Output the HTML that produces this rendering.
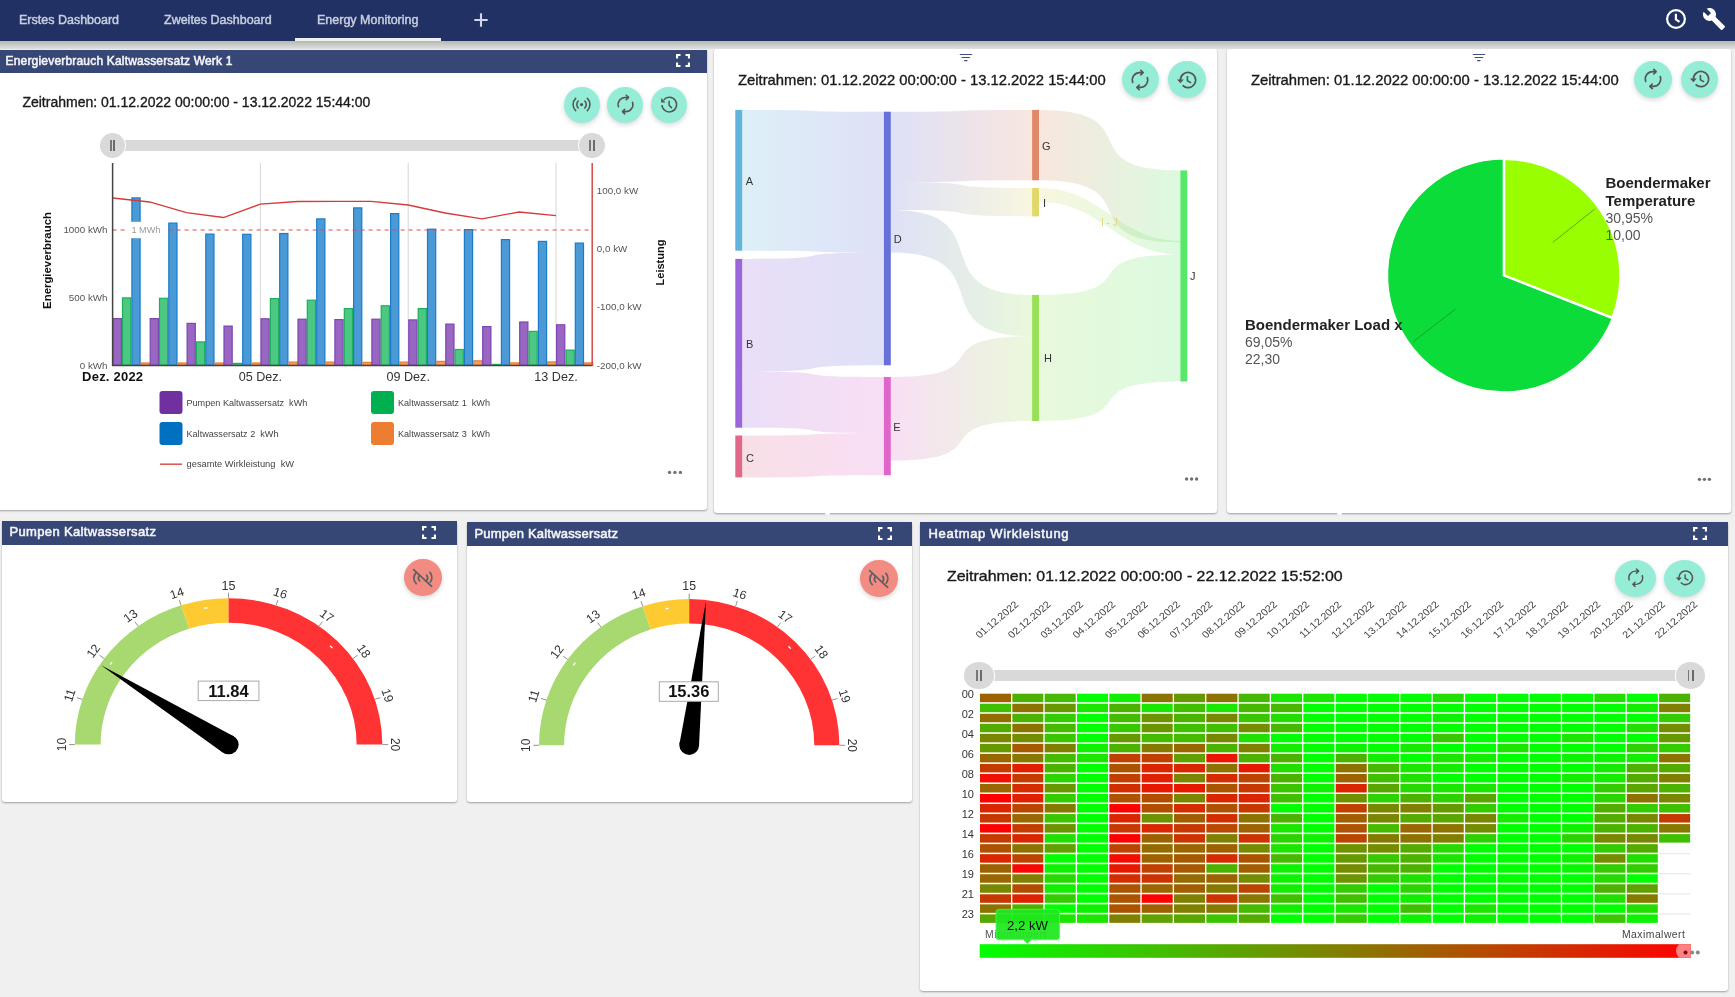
<!DOCTYPE html>
<html><head><meta charset="utf-8"><style>
*{box-sizing:border-box;margin:0;padding:0}
html,body{width:1735px;height:997px;overflow:hidden;background:#eff0ef;font-family:"Liberation Sans",sans-serif;position:relative}
.abs{position:absolute}
#nav{position:absolute;left:0;top:0;width:1735px;height:40.5px;background:#223164;z-index:5}
#navsh{position:absolute;left:0;top:40px;width:1735px;height:8.5px;background:linear-gradient(to bottom,#9fa0a4 0%,#b7b8b6 12%,#c3c5c3 40%,#d1d3d1 70%,#dadcda 92%,#e6e8e6 100%);z-index:4}
.tab{position:absolute;top:12.5px;font-size:12.5px;color:#c9cee0;font-weight:400;white-space:nowrap;-webkit-text-stroke:0.45px #c9cee0}
.card{position:absolute;background:#fff;border-radius:3px;box-shadow:0 1px 2px rgba(0,0,0,.35)}
.hdr{position:absolute;left:0;top:0;right:0;height:24px;background:#374775;color:#f4f5f8;font-weight:400;font-size:12px;white-space:nowrap;-webkit-text-stroke:0.55px #f4f5f8}
.hdr span{position:absolute;top:5px}
.btn{position:absolute;border-radius:50%;background:#95edd8;box-shadow:0 2px 5px rgba(0,0,0,.16)}
.btn svg{position:absolute;left:18%;top:18%;width:64%;height:64%}
.zt{position:absolute;font-size:14px;color:#1a1a1a;white-space:nowrap;-webkit-text-stroke:0.35px #1a1a1a}
svg text{font-family:"Liberation Sans",sans-serif}
</style></head><body><div id="root" style="position:absolute;left:0;top:0;width:1735px;height:997px;overflow:hidden;will-change:transform">
<div class="card" style="left:-3px;top:50px;width:710px;height:460px;border-radius:0 0 3px 3px"></div>
<div class="card" style="left:714px;top:49px;width:503px;height:464px"></div>
<div class="card" style="left:1227px;top:49px;width:504px;height:464px"></div>
<div class="abs" style="left:824.5px;top:511px;width:5px;height:4px;border-radius:0 0 2px 2px;background:#fff"></div>
<div class="abs" style="left:1336.5px;top:511px;width:5px;height:4px;border-radius:0 0 2px 2px;background:#fff"></div>
<div class="card" style="left:2px;top:521px;width:455px;height:281px"></div>
<div class="card" style="left:467px;top:522px;width:445px;height:280px"></div>
<div class="card" style="left:920px;top:522px;width:808px;height:469px"></div>
<div class="hdr" style="left:0;top:50px;width:707px;height:23px"><span style="left:5.5px;top:3.8px;font-size:12px;letter-spacing:0.19px">Energieverbrauch Kaltwassersatz Werk 1</span></div>
<div class="hdr" style="left:2px;top:521px;width:455px"><span style="left:7.5px;top:3.4px;font-size:13px;letter-spacing:0.35px">Pumpen Kaltwassersatz</span></div>
<div class="hdr" style="left:467px;top:522px;width:445px"><span style="left:7.5px;top:4px;font-size:13px;letter-spacing:0.2px">Pumpen Kaltwassersatz</span></div>
<div class="hdr" style="left:920px;top:522px;width:808px"><span style="left:8.5px;top:3.6px;font-size:13px;letter-spacing:0.68px">Heatmap Wirkleistung</span></div>
<svg class="abs" style="left:676px;top:54px" width="14" height="13" viewBox="0 0 14 13"><path d="M1 4.5V1h3.5M9.5 1H13v3.5M13 8.5V12H9.5M4.5 12H1V8.5" fill="none" stroke="#fff" stroke-width="2.2"/></svg><div class="zt" style="left:22.4px;top:93.8px;font-size:14px">Zeitrahmen: 01.12.2022 00:00:00 - 13.12.2022 15:44:00</div><div class="btn" style="left:564.0px;top:86.8px;width:36px;height:36px"><svg viewBox="0 0 24 24"><circle cx="12" cy="12" r="1.7" fill="#555"/><path d="M8.6 8.4a5 5 0 0 0 0 7.2M15.4 8.4a5 5 0 0 1 0 7.2M5.9 5.6a9 9 0 0 0 0 12.8M18.1 5.6a9 9 0 0 1 0 12.8" fill="none" stroke="#555" stroke-width="1.6" stroke-linecap="round"/></svg></div><div class="btn" style="left:607.2px;top:86.8px;width:36px;height:36px"><svg viewBox="0 0 24 24"><path d="M4.7 14.4A7.4 7.4 0 0 1 12 4.6h2.6M12.8 2.3l2.4 2.3-2.4 2.3M19.3 9.6A7.4 7.4 0 0 1 12 19.4H9.4M11.2 17.1l-2.4 2.3 2.4 2.3" fill="none" stroke="#555" stroke-width="1.6" stroke-linecap="round" stroke-linejoin="round"/></svg></div><div class="btn" style="left:650.9px;top:86.8px;width:36px;height:36px"><svg viewBox="0 0 24 24"><path d="M5.2 12.5A7.6 7.6 0 1 0 7 7.2" fill="none" stroke="#555" stroke-width="1.6"/><path d="M4.3 5.2v4.6h4.6z" fill="#555"/><path d="M12.6 8.2v4.6l3 3" fill="none" stroke="#555" stroke-width="1.6"/></svg></div><div class="abs" style="left:112.6px;top:139.9px;width:479.4px;height:11px;background:#d9d9d9"></div><div class="abs" style="left:98.80px;top:131.50px;width:27.6px;height:27.8px;border-radius:50%;background:#d9d9d9;border:1px solid #fff"><div class="abs" style="left:10.15px;top:7.40px;width:1.8px;height:11px;background:#777"></div><div class="abs" style="left:13.65px;top:7.40px;width:1.8px;height:11px;background:#6a6a6a"></div></div><div class="abs" style="left:578.20px;top:131.50px;width:27.6px;height:27.8px;border-radius:50%;background:#d9d9d9;border:1px solid #fff"><div class="abs" style="left:10.15px;top:7.40px;width:1.8px;height:11px;background:#777"></div><div class="abs" style="left:13.65px;top:7.40px;width:1.8px;height:11px;background:#6a6a6a"></div></div><svg class="abs" style="left:0;top:0" width="707" height="510" viewBox="0 0 707 510"><line x1="260.4" y1="163" x2="260.4" y2="365" stroke="#d6d6d6" stroke-width="1"/><line x1="408.2" y1="163" x2="408.2" y2="365" stroke="#d6d6d6" stroke-width="1"/><line x1="556.0" y1="163" x2="556.0" y2="365" stroke="#d6d6d6" stroke-width="1"/><rect x="113.2" y="318.6" width="8.2" height="46.6" fill="#9966c2" stroke="#7f45b3" stroke-width="1.2"/><rect x="122.5" y="297.9" width="8.2" height="67.3" fill="#4cc883" stroke="#1fae5c" stroke-width="1.2"/><rect x="131.9" y="197.9" width="8.2" height="167.3" fill="#4b9ad6" stroke="#1a7cc9" stroke-width="1.2"/><rect x="141.2" y="363.0" width="8.2" height="2.2" fill="#f0a060" stroke="#ec7c30" stroke-width="1.2"/><rect x="150.2" y="318.6" width="8.2" height="46.6" fill="#9966c2" stroke="#7f45b3" stroke-width="1.2"/><rect x="159.5" y="298.3" width="8.2" height="66.9" fill="#4cc883" stroke="#1fae5c" stroke-width="1.2"/><rect x="168.8" y="223.1" width="8.2" height="142.1" fill="#4b9ad6" stroke="#1a7cc9" stroke-width="1.2"/><rect x="178.2" y="363.0" width="8.2" height="2.2" fill="#f0a060" stroke="#ec7c30" stroke-width="1.2"/><rect x="187.1" y="323.4" width="8.2" height="41.8" fill="#9966c2" stroke="#7f45b3" stroke-width="1.2"/><rect x="196.4" y="341.9" width="8.2" height="23.3" fill="#4cc883" stroke="#1fae5c" stroke-width="1.2"/><rect x="205.8" y="234.1" width="8.2" height="131.1" fill="#4b9ad6" stroke="#1a7cc9" stroke-width="1.2"/><rect x="215.2" y="363.0" width="8.2" height="2.2" fill="#f0a060" stroke="#ec7c30" stroke-width="1.2"/><rect x="224.0" y="326.1" width="8.2" height="39.1" fill="#9966c2" stroke="#7f45b3" stroke-width="1.2"/><rect x="233.4" y="363.4" width="8.2" height="1.8" fill="#4cc883" stroke="#1fae5c" stroke-width="1.2"/><rect x="242.7" y="234.3" width="8.2" height="130.9" fill="#4b9ad6" stroke="#1a7cc9" stroke-width="1.2"/><rect x="252.1" y="363.0" width="8.2" height="2.2" fill="#f0a060" stroke="#ec7c30" stroke-width="1.2"/><rect x="261.0" y="318.8" width="8.2" height="46.4" fill="#9966c2" stroke="#7f45b3" stroke-width="1.2"/><rect x="270.4" y="298.6" width="8.2" height="66.6" fill="#4cc883" stroke="#1fae5c" stroke-width="1.2"/><rect x="279.7" y="233.5" width="8.2" height="131.7" fill="#4b9ad6" stroke="#1a7cc9" stroke-width="1.2"/><rect x="289.1" y="362.1" width="8.2" height="3.1" fill="#f0a060" stroke="#ec7c30" stroke-width="1.2"/><rect x="298.0" y="319.2" width="8.2" height="46.0" fill="#9966c2" stroke="#7f45b3" stroke-width="1.2"/><rect x="307.3" y="300.2" width="8.2" height="65.0" fill="#4cc883" stroke="#1fae5c" stroke-width="1.2"/><rect x="316.7" y="218.9" width="8.2" height="146.3" fill="#4b9ad6" stroke="#1a7cc9" stroke-width="1.2"/><rect x="326.0" y="362.1" width="8.2" height="3.1" fill="#f0a060" stroke="#ec7c30" stroke-width="1.2"/><rect x="334.9" y="319.6" width="8.2" height="45.6" fill="#9966c2" stroke="#7f45b3" stroke-width="1.2"/><rect x="344.3" y="308.6" width="8.2" height="56.6" fill="#4cc883" stroke="#1fae5c" stroke-width="1.2"/><rect x="353.6" y="207.9" width="8.2" height="157.3" fill="#4b9ad6" stroke="#1a7cc9" stroke-width="1.2"/><rect x="363.0" y="362.4" width="8.2" height="2.8" fill="#f0a060" stroke="#ec7c30" stroke-width="1.2"/><rect x="371.9" y="319.2" width="8.2" height="46.0" fill="#9966c2" stroke="#7f45b3" stroke-width="1.2"/><rect x="381.2" y="305.8" width="8.2" height="59.4" fill="#4cc883" stroke="#1fae5c" stroke-width="1.2"/><rect x="390.6" y="213.6" width="8.2" height="151.6" fill="#4b9ad6" stroke="#1a7cc9" stroke-width="1.2"/><rect x="399.9" y="362.1" width="8.2" height="3.1" fill="#f0a060" stroke="#ec7c30" stroke-width="1.2"/><rect x="408.8" y="319.9" width="8.2" height="45.3" fill="#9966c2" stroke="#7f45b3" stroke-width="1.2"/><rect x="418.2" y="308.6" width="8.2" height="56.6" fill="#4cc883" stroke="#1fae5c" stroke-width="1.2"/><rect x="427.5" y="229.2" width="8.2" height="136.0" fill="#4b9ad6" stroke="#1a7cc9" stroke-width="1.2"/><rect x="436.9" y="361.4" width="8.2" height="3.8" fill="#f0a060" stroke="#ec7c30" stroke-width="1.2"/><rect x="445.8" y="324.1" width="8.2" height="41.1" fill="#9966c2" stroke="#7f45b3" stroke-width="1.2"/><rect x="455.1" y="349.5" width="8.2" height="15.7" fill="#4cc883" stroke="#1fae5c" stroke-width="1.2"/><rect x="464.4" y="229.6" width="8.2" height="135.6" fill="#4b9ad6" stroke="#1a7cc9" stroke-width="1.2"/><rect x="473.8" y="360.8" width="8.2" height="4.4" fill="#f0a060" stroke="#ec7c30" stroke-width="1.2"/><rect x="482.7" y="326.6" width="8.2" height="38.6" fill="#9966c2" stroke="#7f45b3" stroke-width="1.2"/><rect x="492.1" y="364.4" width="8.2" height="0.8" fill="#4cc883" stroke="#1fae5c" stroke-width="1.2"/><rect x="501.4" y="239.6" width="8.2" height="125.6" fill="#4b9ad6" stroke="#1a7cc9" stroke-width="1.2"/><rect x="510.8" y="362.9" width="8.2" height="2.3" fill="#f0a060" stroke="#ec7c30" stroke-width="1.2"/><rect x="519.7" y="322.0" width="8.2" height="43.2" fill="#9966c2" stroke="#7f45b3" stroke-width="1.2"/><rect x="529.0" y="331.4" width="8.2" height="33.8" fill="#4cc883" stroke="#1fae5c" stroke-width="1.2"/><rect x="538.4" y="241.4" width="8.2" height="123.8" fill="#4b9ad6" stroke="#1a7cc9" stroke-width="1.2"/><rect x="547.7" y="361.9" width="8.2" height="3.3" fill="#f0a060" stroke="#ec7c30" stroke-width="1.2"/><rect x="556.6" y="324.8" width="8.2" height="40.4" fill="#9966c2" stroke="#7f45b3" stroke-width="1.2"/><rect x="566.0" y="350.1" width="8.2" height="15.1" fill="#4cc883" stroke="#1fae5c" stroke-width="1.2"/><rect x="575.3" y="243.1" width="8.2" height="122.1" fill="#4b9ad6" stroke="#1a7cc9" stroke-width="1.2"/><rect x="584.6" y="362.9" width="8.2" height="2.3" fill="#f0a060" stroke="#ec7c30" stroke-width="1.2"/><polyline points="112.6,198 149.6,202 186.5,212.6 223.4,217.5 260.4,204.2 297.4,201.5 334.3,201.3 371.2,201.3 408.2,205 445.1,213 482.1,218.8 519.1,212 556.0,215.6" fill="none" stroke="#d63a3a" stroke-width="1.3"/><line x1="112.6" y1="230" x2="592" y2="230" stroke="#e04848" stroke-width="1" stroke-dasharray="4,4"/><rect x="128.2" y="221.8" width="39.8" height="16.4" fill="#fff"/><text x="131.4" y="233" font-size="9.2" fill="#9a9a9a">1 MWh</text><line x1="112.6" y1="163" x2="112.6" y2="366" stroke="#444" stroke-width="1.5"/><line x1="112" y1="365.6" x2="592.5" y2="365.6" stroke="#444" stroke-width="1.5"/><line x1="592.2" y1="163" x2="592.2" y2="366" stroke="#d84848" stroke-width="1.5"/><text x="107.5" y="233.4" font-size="9.8" fill="#555" text-anchor="end">1000 kWh</text><text x="107.5" y="301.4" font-size="9.8" fill="#555" text-anchor="end">500 kWh</text><text x="107.5" y="368.7" font-size="9.8" fill="#555" text-anchor="end">0 kWh</text><text x="596.8" y="194.4" font-size="9.8" fill="#555">100,0 kW</text><text x="596.8" y="252.4" font-size="9.8" fill="#555">0,0 kW</text><text x="596.8" y="310.2" font-size="9.8" fill="#555">-100,0 kW</text><text x="596.8" y="369.2" font-size="9.8" fill="#555">-200,0 kW</text><text transform="translate(50.5,260.5) rotate(-90)" font-size="11.4" font-weight="700" fill="#111" text-anchor="middle">Energieverbrauch</text><text transform="translate(664.2,262.5) rotate(-90)" font-size="11" font-weight="700" fill="#111" text-anchor="middle">Leistung</text><text x="112.6" y="381" font-size="13" font-weight="700" fill="#111" text-anchor="middle" textLength="61">Dez. 2022</text><text x="260.4" y="381" font-size="12.6" fill="#333" text-anchor="middle">05 Dez.</text><text x="408.2" y="381" font-size="12.6" fill="#333" text-anchor="middle">09 Dez.</text><text x="556.0" y="381" font-size="12.6" fill="#333" text-anchor="middle">13 Dez.</text><rect x="159.5" y="391" width="23" height="23" rx="3" fill="#7030a0"/><text x="186.5" y="406" font-size="9.1" fill="#444">Pumpen Kaltwassersatz&#160; kWh</text><rect x="371" y="391" width="23" height="23" rx="3" fill="#00b050"/><text x="398" y="406" font-size="9.1" fill="#444">Kaltwassersatz 1&#160; kWh</text><rect x="159.5" y="422" width="23" height="23" rx="3" fill="#0070c0"/><text x="186.5" y="437" font-size="9.1" fill="#444">Kaltwassersatz 2&#160; kWh</text><rect x="371" y="422" width="23" height="23" rx="3" fill="#ed7d31"/><text x="398" y="437" font-size="9.1" fill="#444">Kaltwassersatz 3&#160; kWh</text><line x1="160" y1="464.2" x2="182" y2="464.2" stroke="#e05a5a" stroke-width="1.6"/><text x="186.6" y="467.3" font-size="9.3" fill="#444">gesamte Wirkleistung&#160; kW</text><circle cx="669.50" cy="472.4" r="1.65" fill="#707070"/><circle cx="674.95" cy="472.4" r="1.65" fill="#707070"/><circle cx="680.40" cy="472.4" r="1.65" fill="#707070"/></svg>
<svg class="abs" style="left:959px;top:52.5px" width="14" height="10" viewBox="0 0 14 10"><path d="M1.2 1.5h11.5M3 4.5h7.7M5.5 7.6h2.6" stroke="#3f4f86" stroke-width="1.1" stroke-linecap="round"/></svg><div class="zt" style="left:738px;top:72px;font-size:14.8px">Zeitrahmen: 01.12.2022 00:00:00 - 13.12.2022 15:44:00</div><div class="btn" style="left:1121.5px;top:60.8px;width:37.5px;height:37.5px"><svg viewBox="0 0 24 24"><path d="M4.7 14.4A7.4 7.4 0 0 1 12 4.6h2.6M12.8 2.3l2.4 2.3-2.4 2.3M19.3 9.6A7.4 7.4 0 0 1 12 19.4H9.4M11.2 17.1l-2.4 2.3 2.4 2.3" fill="none" stroke="#555" stroke-width="1.6" stroke-linecap="round" stroke-linejoin="round"/></svg></div><div class="btn" style="left:1168.2px;top:60.8px;width:37.5px;height:37.5px"><svg viewBox="0 0 24 24"><path d="M5.4 12A7.6 7.6 0 1 1 7.6 17.4" fill="none" stroke="#555" stroke-width="1.7"/><path d="M2 11.6h6.8L5.4 15.3z" fill="#555"/><path d="M12.4 8v4.7l3.7 2.2" fill="none" stroke="#555" stroke-width="1.6"/></svg></div><svg class="abs" style="left:0;top:0" width="1220" height="515" viewBox="0 0 1220 515"><defs><linearGradient id="lg0" x1="742.1999999999999" x2="883.9" y1="0" y2="0" gradientUnits="userSpaceOnUse"><stop offset="0" stop-color="#62b4dc"/><stop offset="1" stop-color="#6670d8"/></linearGradient><linearGradient id="lg1" x1="742.1999999999999" x2="883.9" y1="0" y2="0" gradientUnits="userSpaceOnUse"><stop offset="0" stop-color="#9b66d9"/><stop offset="1" stop-color="#6670d8"/></linearGradient><linearGradient id="lg2" x1="742.1999999999999" x2="883.9" y1="0" y2="0" gradientUnits="userSpaceOnUse"><stop offset="0" stop-color="#9b66d9"/><stop offset="1" stop-color="#e066cc"/></linearGradient><linearGradient id="lg3" x1="742.1999999999999" x2="883.9" y1="0" y2="0" gradientUnits="userSpaceOnUse"><stop offset="0" stop-color="#e06888"/><stop offset="1" stop-color="#e066cc"/></linearGradient><linearGradient id="lg4" x1="890.8" x2="1032.1" y1="0" y2="0" gradientUnits="userSpaceOnUse"><stop offset="0" stop-color="#6670d8"/><stop offset="1" stop-color="#e08868"/></linearGradient><linearGradient id="lg5" x1="890.8" x2="1032.1" y1="0" y2="0" gradientUnits="userSpaceOnUse"><stop offset="0" stop-color="#6670d8"/><stop offset="1" stop-color="#e0d868"/></linearGradient><linearGradient id="lg6" x1="890.8" x2="1032.1" y1="0" y2="0" gradientUnits="userSpaceOnUse"><stop offset="0" stop-color="#6670d8"/><stop offset="1" stop-color="#98e058"/></linearGradient><linearGradient id="lg7" x1="890.8" x2="1032.1" y1="0" y2="0" gradientUnits="userSpaceOnUse"><stop offset="0" stop-color="#e066cc"/><stop offset="1" stop-color="#98e058"/></linearGradient><linearGradient id="lg8" x1="1039.0" x2="1180.4" y1="0" y2="0" gradientUnits="userSpaceOnUse"><stop offset="0" stop-color="#e08868"/><stop offset="1" stop-color="#58e868"/></linearGradient><linearGradient id="lg9" x1="1039.0" x2="1180.4" y1="0" y2="0" gradientUnits="userSpaceOnUse"><stop offset="0" stop-color="#e0d868"/><stop offset="1" stop-color="#58e868"/></linearGradient><linearGradient id="lg10" x1="1039.0" x2="1180.4" y1="0" y2="0" gradientUnits="userSpaceOnUse"><stop offset="0" stop-color="#98e058"/><stop offset="1" stop-color="#58e868"/></linearGradient></defs><path d="M742.1999999999999,109.9 C855.6,109.9 770.5,111.7 883.9,111.7 L883.9,252.5 C770.5,252.5 855.6,250.7 742.1999999999999,250.7 Z" fill="url(#lg0)" fill-opacity="0.21"/><path d="M742.1999999999999,258.9 C855.6,258.9 770.5,252.5 883.9,252.5 L883.9,365.3 C770.5,365.3 855.6,371.5 742.1999999999999,371.5 Z" fill="url(#lg1)" fill-opacity="0.21"/><path d="M742.1999999999999,371.5 C855.6,371.5 770.5,377 883.9,377 L883.9,433.2 C770.5,433.2 855.6,427.7 742.1999999999999,427.7 Z" fill="url(#lg2)" fill-opacity="0.21"/><path d="M742.1999999999999,435.5 C855.6,435.5 770.5,433.2 883.9,433.2 L883.9,475.2 C770.5,475.2 855.6,477.4 742.1999999999999,477.4 Z" fill="url(#lg3)" fill-opacity="0.21"/><path d="M890.8,111.7 C1003.8,111.7 919.1,109.9 1032.1,109.9 L1032.1,180.3 C919.1,180.3 1003.8,182.1 890.8,182.1 Z" fill="url(#lg4)" fill-opacity="0.21"/><path d="M890.8,182.1 C1003.8,182.1 919.1,188.1 1032.1,188.1 L1032.1,216.4 C919.1,216.4 1003.8,210.1 890.8,210.1 Z" fill="url(#lg5)" fill-opacity="0.21"/><path d="M890.8,210.1 C1003.8,210.1 919.1,294.9 1032.1,294.9 L1032.1,336.2 C919.1,336.2 1003.8,252.5 890.8,252.5 Z" fill="url(#lg6)" fill-opacity="0.21"/><path d="M890.8,377 C1003.8,377 919.1,336.2 1032.1,336.2 L1032.1,421 C919.1,421 1003.8,460.6 890.8,460.6 Z" fill="url(#lg7)" fill-opacity="0.21"/><path d="M1039.0,109.9 C1152.1,109.9 1067.3,170.4 1180.4,170.4 L1180.4,242.5 C1067.3,242.5 1152.1,180.3 1039.0,180.3 Z" fill="url(#lg8)" fill-opacity="0.21"/><path d="M1039.0,188.1 C1102.6,188.1 1116.8,240.8 1180.4,240.8 L1180.4,254.4 C1116.8,254.4 1102.6,202.0 1039.0,202.0 Z" fill="url(#lg9)" fill-opacity="0.21"/><path d="M1039.0,294.9 C1152.1,294.9 1067.3,254.4 1180.4,254.4 L1180.4,381.5 C1067.3,381.5 1152.1,421 1039.0,421 Z" fill="url(#lg10)" fill-opacity="0.21"/><rect x="735.3" y="109.9" width="6.9" height="140.8" fill="#62b4dc"/><rect x="735.3" y="258.9" width="6.9" height="168.8" fill="#9b66d9"/><rect x="735.3" y="435.5" width="6.9" height="41.9" fill="#e06888"/><rect x="883.9" y="111.7" width="6.9" height="253.6" fill="#6670d8"/><rect x="883.9" y="377" width="6.9" height="98.2" fill="#e066cc"/><rect x="1032.1" y="109.9" width="6.9" height="70.4" fill="#e08868"/><rect x="1032.1" y="188.1" width="6.9" height="28.3" fill="#e0d868"/><rect x="1032.1" y="294.9" width="6.9" height="126.1" fill="#98e058"/><rect x="1180.4" y="170.4" width="6.9" height="211.1" fill="#58e868"/><text x="745.8" y="185.2" font-size="11" fill="#333">A</text><text x="746" y="347.9" font-size="11" fill="#333">B</text><text x="746" y="461.5" font-size="11" fill="#333">C</text><text x="893.8" y="243" font-size="11" fill="#333">D</text><text x="893.3" y="430.6" font-size="11" fill="#333">E</text><text x="1042" y="150" font-size="11" fill="#333">G</text><text x="1043" y="207" font-size="11" fill="#333">I</text><text x="1044" y="361.9" font-size="11" fill="#333">H</text><text x="1190" y="280" font-size="11" fill="#333">J</text><text x="1101" y="226" font-size="10" fill="#e3d37a">I - J</text><circle cx="1186.60" cy="479" r="1.65" fill="#6e6e6e"/><circle cx="1191.60" cy="479" r="1.65" fill="#6e6e6e"/><circle cx="1196.60" cy="479" r="1.65" fill="#6e6e6e"/></svg>
<svg class="abs" style="left:1472px;top:52.5px" width="14" height="10" viewBox="0 0 14 10"><path d="M1.2 1.5h11.5M3 4.5h7.7M5.5 7.6h2.6" stroke="#3f4f86" stroke-width="1.1" stroke-linecap="round"/></svg><div class="zt" style="left:1251px;top:72px;font-size:14.8px">Zeitrahmen: 01.12.2022 00:00:00 - 13.12.2022 15:44:00</div><div class="btn" style="left:1634.2px;top:60.7px;width:37.5px;height:37.5px"><svg viewBox="0 0 24 24"><path d="M4.7 14.4A7.4 7.4 0 0 1 12 4.6h2.6M12.8 2.3l2.4 2.3-2.4 2.3M19.3 9.6A7.4 7.4 0 0 1 12 19.4H9.4M11.2 17.1l-2.4 2.3 2.4 2.3" fill="none" stroke="#555" stroke-width="1.6" stroke-linecap="round" stroke-linejoin="round"/></svg></div><div class="btn" style="left:1680.8px;top:60.7px;width:37.5px;height:37.5px"><svg viewBox="0 0 24 24"><path d="M5.4 12A7.6 7.6 0 1 1 7.6 17.4" fill="none" stroke="#555" stroke-width="1.7"/><path d="M2 11.6h6.8L5.4 15.3z" fill="#555"/><path d="M12.4 8v4.7l3.7 2.2" fill="none" stroke="#555" stroke-width="1.6"/></svg></div><svg class="abs" style="left:1227px;top:49px" width="504" height="464" viewBox="1227 49 504 464"><path d="M1504,275.4 L1612.55,317.98 A116.6,116.6 0 1 1 1504.00,158.80 Z" fill="#0bdc3a" stroke="#fff" stroke-width="1.5" stroke-linejoin="round"/><path d="M1504,275.4 L1504.00,158.80 A116.6,116.6 0 0 1 1612.55,317.98 Z" fill="#99ff00" stroke="#fff" stroke-width="2.6" stroke-linejoin="round"/><line x1="1552.8" y1="242.4" x2="1594.8" y2="209" stroke="#3a8a2a" stroke-opacity=".7" stroke-width="1"/><line x1="1455.3" y1="309.2" x2="1413.3" y2="341.7" stroke="#1a7a2a" stroke-opacity=".6" stroke-width="1"/><text x="1605.5" y="188.4" font-size="15" font-weight="700" fill="#222">Boendermaker</text><text x="1605.5" y="205.6" font-size="15" font-weight="700" fill="#222">Temperature</text><text x="1605.5" y="223.1" font-size="14" fill="#555">30,95%</text><text x="1605.5" y="239.5" font-size="14" fill="#555">10,00</text><text x="1245" y="330" font-size="15" font-weight="700" fill="#222">Boendermaker Load x</text><text x="1245" y="346.6" font-size="14" fill="#555">69,05%</text><text x="1245" y="364.4" font-size="14" fill="#555">22,30</text><circle cx="1699.40" cy="479.3" r="1.65" fill="#6e6e6e"/><circle cx="1704.40" cy="479.3" r="1.65" fill="#6e6e6e"/><circle cx="1709.40" cy="479.3" r="1.65" fill="#6e6e6e"/></svg>
<svg class="abs" style="left:422px;top:526px" width="14" height="13" viewBox="0 0 14 13"><path d="M1 4.5V1h3.5M9.5 1H13v3.5M13 8.5V12H9.5M4.5 12H1V8.5" fill="none" stroke="#fff" stroke-width="2.2"/></svg><svg class="abs" style="left:877.5px;top:526.5px" width="14" height="13" viewBox="0 0 14 13"><path d="M1 4.5V1h3.5M9.5 1H13v3.5M13 8.5V12H9.5M4.5 12H1V8.5" fill="none" stroke="#fff" stroke-width="2.2"/></svg><div class="btn" style="left:404.4px;top:558.9px;width:37.5px;height:37.5px;background:#f28b82"><svg viewBox="0 0 24 24"><path d="M5.2 6.6A7.6 7.6 0 0 0 5.2 17.6M8.6 9.3A4.3 4.3 0 0 0 8.6 15M15.6 9.2A4.3 4.3 0 0 1 15.6 14.6M18.9 6.4A7.6 7.6 0 0 1 19.2 16.2" fill="none" stroke="#5f5f5f" stroke-width="1.7" stroke-linecap="round"/><path d="M2.6 3.6L20.6 20.4" stroke="#5f5f5f" stroke-width="1.7" stroke-linecap="round"/></svg></div><div class="btn" style="left:860.2px;top:559.8px;width:37.5px;height:37.5px;background:#f28b82"><svg viewBox="0 0 24 24"><path d="M5.2 6.6A7.6 7.6 0 0 0 5.2 17.6M8.6 9.3A4.3 4.3 0 0 0 8.6 15M15.6 9.2A4.3 4.3 0 0 1 15.6 14.6M18.9 6.4A7.6 7.6 0 0 1 19.2 16.2" fill="none" stroke="#5f5f5f" stroke-width="1.7" stroke-linecap="round"/><path d="M2.6 3.6L20.6 20.4" stroke="#5f5f5f" stroke-width="1.7" stroke-linecap="round"/></svg></div><svg class="abs" style="left:0;top:546px" width="915" height="256" viewBox="0 546 915 256"><g transform="translate(228.6,744.6) scale(1.05,1)"><path d="M-146.40,-0.00 A146.4,146.4 0 0 1 -45.24,-139.23 L-37.67,-115.93 A121.9,121.9 0 0 0 -121.90,-0.00 Z" fill="#a8d870"/><path d="M-45.24,-139.23 A146.4,146.4 0 0 1 0.00,-146.40 L0.00,-121.90 A121.9,121.9 0 0 0 -37.67,-115.93 Z" fill="#fdca32"/><path d="M0.00,-146.40 A146.4,146.4 0 0 1 146.40,-0.00 L121.90,-0.00 A121.9,121.9 0 0 0 0.00,-121.90 Z" fill="#ff3333"/><line x1="-110.95" y1="-82.59" x2="-112.83" y2="-80.00" stroke="#fff" stroke-width="1.3"/><line x1="-20.05" y1="-136.85" x2="-23.22" y2="-136.35" stroke="#fff" stroke-width="1.3"/><line x1="98.92" y1="-96.66" x2="96.66" y2="-98.92" stroke="#fff" stroke-width="1.3"/><line x1="-146.40" y1="-0.00" x2="-151.90" y2="-0.00" stroke="#888" stroke-width="0.9"/><text transform="translate(-159.30,-0.00) rotate(-90)" font-size="12" fill="#333" text-anchor="middle" dy="4.2">10</text><line x1="-139.23" y1="-45.24" x2="-144.47" y2="-46.94" stroke="#888" stroke-width="0.9"/><text transform="translate(-151.50,-49.23) rotate(-72)" font-size="12" fill="#333" text-anchor="middle" dy="4.2">11</text><line x1="-118.44" y1="-86.05" x2="-122.89" y2="-89.28" stroke="#888" stroke-width="0.9"/><text transform="translate(-128.88,-93.63) rotate(-54)" font-size="12" fill="#333" text-anchor="middle" dy="4.2">12</text><line x1="-86.05" y1="-118.44" x2="-89.28" y2="-122.89" stroke="#888" stroke-width="0.9"/><text transform="translate(-93.63,-128.88) rotate(-36)" font-size="12" fill="#333" text-anchor="middle" dy="4.2">13</text><line x1="-45.24" y1="-139.23" x2="-46.94" y2="-144.47" stroke="#888" stroke-width="0.9"/><text transform="translate(-49.23,-151.50) rotate(-18)" font-size="12" fill="#333" text-anchor="middle" dy="4.2">14</text><line x1="0.00" y1="-146.40" x2="0.00" y2="-151.90" stroke="#888" stroke-width="0.9"/><text transform="translate(0.00,-159.30) rotate(0)" font-size="12" fill="#333" text-anchor="middle" dy="4.2">15</text><line x1="45.24" y1="-139.23" x2="46.94" y2="-144.47" stroke="#888" stroke-width="0.9"/><text transform="translate(49.23,-151.50) rotate(18)" font-size="12" fill="#333" text-anchor="middle" dy="4.2">16</text><line x1="86.05" y1="-118.44" x2="89.28" y2="-122.89" stroke="#888" stroke-width="0.9"/><text transform="translate(93.63,-128.88) rotate(36)" font-size="12" fill="#333" text-anchor="middle" dy="4.2">17</text><line x1="118.44" y1="-86.05" x2="122.89" y2="-89.28" stroke="#888" stroke-width="0.9"/><text transform="translate(128.88,-93.63) rotate(54)" font-size="12" fill="#333" text-anchor="middle" dy="4.2">18</text><line x1="139.23" y1="-45.24" x2="144.47" y2="-46.94" stroke="#888" stroke-width="0.9"/><text transform="translate(151.50,-49.23) rotate(72)" font-size="12" fill="#333" text-anchor="middle" dy="4.2">19</text><line x1="146.40" y1="-0.00" x2="151.90" y2="-0.00" stroke="#888" stroke-width="0.9"/><text transform="translate(159.30,-0.00) rotate(90)" font-size="12" fill="#333" text-anchor="middle" dy="4.2">20</text><path d="M-121.44,-79.23 L5.25,-8.04 L-5.25,8.04 Z" fill="#000"/><circle cx="0" cy="0" r="9.6" fill="#000"/></g><rect x="198.2" y="681.1" width="60.69999999999999" height="19.5" fill="#fff" stroke="#aaa" stroke-width="1"/><text x="228.5" y="696.5" font-size="16.5" font-weight="700" fill="#111" text-anchor="middle">11.84</text><g transform="translate(689.2,745.3) scale(1.027,1)"><path d="M-146.20,-0.00 A146.2,146.2 0 0 1 -45.18,-139.04 L-37.64,-115.84 A121.8,121.8 0 0 0 -121.80,-0.00 Z" fill="#a8d870"/><path d="M-45.18,-139.04 A146.2,146.2 0 0 1 0.00,-146.20 L0.00,-121.80 A121.8,121.8 0 0 0 -37.64,-115.84 Z" fill="#fdca32"/><path d="M0.00,-146.20 A146.2,146.2 0 0 1 146.20,-0.00 L121.80,-0.00 A121.8,121.8 0 0 0 0.00,-121.80 Z" fill="#ff3333"/><line x1="-110.95" y1="-82.59" x2="-112.83" y2="-80.00" stroke="#fff" stroke-width="1.3"/><line x1="-20.05" y1="-136.85" x2="-23.22" y2="-136.35" stroke="#fff" stroke-width="1.3"/><line x1="98.92" y1="-96.66" x2="96.66" y2="-98.92" stroke="#fff" stroke-width="1.3"/><line x1="-146.20" y1="-0.00" x2="-151.70" y2="-0.00" stroke="#888" stroke-width="0.9"/><text transform="translate(-159.30,-0.00) rotate(-90)" font-size="12" fill="#333" text-anchor="middle" dy="4.2">10</text><line x1="-139.04" y1="-45.18" x2="-144.28" y2="-46.88" stroke="#888" stroke-width="0.9"/><text transform="translate(-151.50,-49.23) rotate(-72)" font-size="12" fill="#333" text-anchor="middle" dy="4.2">11</text><line x1="-118.28" y1="-85.93" x2="-122.73" y2="-89.17" stroke="#888" stroke-width="0.9"/><text transform="translate(-128.88,-93.63) rotate(-54)" font-size="12" fill="#333" text-anchor="middle" dy="4.2">12</text><line x1="-85.93" y1="-118.28" x2="-89.17" y2="-122.73" stroke="#888" stroke-width="0.9"/><text transform="translate(-93.63,-128.88) rotate(-36)" font-size="12" fill="#333" text-anchor="middle" dy="4.2">13</text><line x1="-45.18" y1="-139.04" x2="-46.88" y2="-144.28" stroke="#888" stroke-width="0.9"/><text transform="translate(-49.23,-151.50) rotate(-18)" font-size="12" fill="#333" text-anchor="middle" dy="4.2">14</text><line x1="0.00" y1="-146.20" x2="0.00" y2="-151.70" stroke="#888" stroke-width="0.9"/><text transform="translate(0.00,-159.30) rotate(0)" font-size="12" fill="#333" text-anchor="middle" dy="4.2">15</text><line x1="45.18" y1="-139.04" x2="46.88" y2="-144.28" stroke="#888" stroke-width="0.9"/><text transform="translate(49.23,-151.50) rotate(18)" font-size="12" fill="#333" text-anchor="middle" dy="4.2">16</text><line x1="85.93" y1="-118.28" x2="89.17" y2="-122.73" stroke="#888" stroke-width="0.9"/><text transform="translate(93.63,-128.88) rotate(36)" font-size="12" fill="#333" text-anchor="middle" dy="4.2">17</text><line x1="118.28" y1="-85.93" x2="122.73" y2="-89.17" stroke="#888" stroke-width="0.9"/><text transform="translate(128.88,-93.63) rotate(54)" font-size="12" fill="#333" text-anchor="middle" dy="4.2">18</text><line x1="139.04" y1="-45.18" x2="144.28" y2="-46.88" stroke="#888" stroke-width="0.9"/><text transform="translate(151.50,-49.23) rotate(72)" font-size="12" fill="#333" text-anchor="middle" dy="4.2">19</text><line x1="146.20" y1="-0.00" x2="151.70" y2="-0.00" stroke="#888" stroke-width="0.9"/><text transform="translate(159.30,-0.00) rotate(90)" font-size="12" fill="#333" text-anchor="middle" dy="4.2">20</text><path d="M16.36,-144.07 L9.54,1.08 L-9.54,-1.08 Z" fill="#000"/><circle cx="0" cy="0" r="9.6" fill="#000"/></g><rect x="659.3" y="681.8" width="59.0" height="19.5" fill="#fff" stroke="#aaa" stroke-width="1"/><text x="688.8" y="697.2" font-size="16.5" font-weight="700" fill="#111" text-anchor="middle">15.36</text></svg>
<svg class="abs" style="left:1693px;top:526.5px" width="14" height="13" viewBox="0 0 14 13"><path d="M1 4.5V1h3.5M9.5 1H13v3.5M13 8.5V12H9.5M4.5 12H1V8.5" fill="none" stroke="#fff" stroke-width="2.2"/></svg><div class="zt" style="left:947.2px;top:567.5px;font-size:14.8px;transform:scaleX(1.076);transform-origin:0 0">Zeitrahmen: 01.12.2022 00:00:00 - 22.12.2022 15:52:00</div><div class="btn" style="left:1614.8px;top:559.5px;width:41px;height:37px"><svg style="left:9.8px;top:7.8px;width:21.5px;height:21.5px" viewBox="0 0 24 24"><path d="M4.7 14.4A7.4 7.4 0 0 1 12 4.6h2.6M12.8 2.3l2.4 2.3-2.4 2.3M19.3 9.6A7.4 7.4 0 0 1 12 19.4H9.4M11.2 17.1l-2.4 2.3 2.4 2.3" fill="none" stroke="#555" stroke-width="1.6" stroke-linecap="round" stroke-linejoin="round"/></svg></div><div class="btn" style="left:1663.8px;top:559.5px;width:41px;height:37px"><svg style="left:9.8px;top:7.8px;width:21.5px;height:21.5px" viewBox="0 0 24 24"><path d="M5.4 12A7.6 7.6 0 1 1 7.6 17.4" fill="none" stroke="#555" stroke-width="1.7"/><path d="M2 11.6h6.8L5.4 15.3z" fill="#555"/><path d="M12.4 8v4.7l3.7 2.2" fill="none" stroke="#555" stroke-width="1.6"/></svg></div><svg class="abs" style="left:920px;top:546px" width="808" height="445" viewBox="920 546 808 445"><text transform="translate(996.8,619.5) scale(1.1,1) rotate(-43)" font-size="9.8" fill="#444" text-anchor="middle" dy="3.5">01.12.2022</text><text transform="translate(1029.1,619.5) scale(1.1,1) rotate(-43)" font-size="9.8" fill="#444" text-anchor="middle" dy="3.5">02.12.2022</text><text transform="translate(1061.5,619.5) scale(1.1,1) rotate(-43)" font-size="9.8" fill="#444" text-anchor="middle" dy="3.5">03.12.2022</text><text transform="translate(1093.8,619.5) scale(1.1,1) rotate(-43)" font-size="9.8" fill="#444" text-anchor="middle" dy="3.5">04.12.2022</text><text transform="translate(1126.2,619.5) scale(1.1,1) rotate(-43)" font-size="9.8" fill="#444" text-anchor="middle" dy="3.5">05.12.2022</text><text transform="translate(1158.5,619.5) scale(1.1,1) rotate(-43)" font-size="9.8" fill="#444" text-anchor="middle" dy="3.5">06.12.2022</text><text transform="translate(1190.8,619.5) scale(1.1,1) rotate(-43)" font-size="9.8" fill="#444" text-anchor="middle" dy="3.5">07.12.2022</text><text transform="translate(1223.2,619.5) scale(1.1,1) rotate(-43)" font-size="9.8" fill="#444" text-anchor="middle" dy="3.5">08.12.2022</text><text transform="translate(1255.5,619.5) scale(1.1,1) rotate(-43)" font-size="9.8" fill="#444" text-anchor="middle" dy="3.5">09.12.2022</text><text transform="translate(1287.9,619.5) scale(1.1,1) rotate(-43)" font-size="9.8" fill="#444" text-anchor="middle" dy="3.5">10.12.2022</text><text transform="translate(1320.2,619.5) scale(1.1,1) rotate(-43)" font-size="9.8" fill="#444" text-anchor="middle" dy="3.5">11.12.2022</text><text transform="translate(1352.5,619.5) scale(1.1,1) rotate(-43)" font-size="9.8" fill="#444" text-anchor="middle" dy="3.5">12.12.2022</text><text transform="translate(1384.9,619.5) scale(1.1,1) rotate(-43)" font-size="9.8" fill="#444" text-anchor="middle" dy="3.5">13.12.2022</text><text transform="translate(1417.2,619.5) scale(1.1,1) rotate(-43)" font-size="9.8" fill="#444" text-anchor="middle" dy="3.5">14.12.2022</text><text transform="translate(1449.6,619.5) scale(1.1,1) rotate(-43)" font-size="9.8" fill="#444" text-anchor="middle" dy="3.5">15.12.2022</text><text transform="translate(1481.9,619.5) scale(1.1,1) rotate(-43)" font-size="9.8" fill="#444" text-anchor="middle" dy="3.5">16.12.2022</text><text transform="translate(1514.2,619.5) scale(1.1,1) rotate(-43)" font-size="9.8" fill="#444" text-anchor="middle" dy="3.5">17.12.2022</text><text transform="translate(1546.6,619.5) scale(1.1,1) rotate(-43)" font-size="9.8" fill="#444" text-anchor="middle" dy="3.5">18.12.2022</text><text transform="translate(1578.9,619.5) scale(1.1,1) rotate(-43)" font-size="9.8" fill="#444" text-anchor="middle" dy="3.5">19.12.2022</text><text transform="translate(1611.3,619.5) scale(1.1,1) rotate(-43)" font-size="9.8" fill="#444" text-anchor="middle" dy="3.5">20.12.2022</text><text transform="translate(1643.6,619.5) scale(1.1,1) rotate(-43)" font-size="9.8" fill="#444" text-anchor="middle" dy="3.5">21.12.2022</text><text transform="translate(1675.9,619.5) scale(1.1,1) rotate(-43)" font-size="9.8" fill="#444" text-anchor="middle" dy="3.5">22.12.2022</text><line x1="1659.1" y1="853.8" x2="1690.1" y2="853.8" stroke="#e3e3e3" stroke-width="1"/><line x1="1659.1" y1="873.8" x2="1690.1" y2="873.8" stroke="#e3e3e3" stroke-width="1"/><line x1="1659.1" y1="893.9" x2="1690.1" y2="893.9" stroke="#e3e3e3" stroke-width="1"/><line x1="1659.1" y1="914.0" x2="1690.1" y2="914.0" stroke="#e3e3e3" stroke-width="1"/><rect x="980.00" y="693.70" width="31.0" height="8.5" fill="rgb(158,97,0)"/><rect x="980.00" y="703.73" width="31.0" height="8.5" fill="rgb(64,191,0)"/><rect x="980.00" y="713.76" width="31.0" height="8.5" fill="rgb(145,110,0)"/><rect x="980.00" y="723.79" width="31.0" height="8.5" fill="rgb(84,171,0)"/><rect x="980.00" y="733.82" width="31.0" height="8.5" fill="rgb(122,133,0)"/><rect x="980.00" y="743.85" width="31.0" height="8.5" fill="rgb(102,153,0)"/><rect x="980.00" y="753.88" width="31.0" height="8.5" fill="rgb(153,102,0)"/><rect x="980.00" y="763.91" width="31.0" height="8.5" fill="rgb(196,59,0)"/><rect x="980.00" y="773.94" width="31.0" height="8.5" fill="rgb(240,15,0)"/><rect x="980.00" y="783.97" width="31.0" height="8.5" fill="rgb(153,102,0)"/><rect x="980.00" y="794.00" width="31.0" height="8.5" fill="rgb(255,0,0)"/><rect x="980.00" y="804.03" width="31.0" height="8.5" fill="rgb(217,38,0)"/><rect x="980.00" y="814.06" width="31.0" height="8.5" fill="rgb(199,56,0)"/><rect x="980.00" y="824.09" width="31.0" height="8.5" fill="rgb(255,0,0)"/><rect x="980.00" y="834.12" width="31.0" height="8.5" fill="rgb(196,59,0)"/><rect x="980.00" y="844.15" width="31.0" height="8.5" fill="rgb(173,82,0)"/><rect x="980.00" y="854.18" width="31.0" height="8.5" fill="rgb(217,38,0)"/><rect x="980.00" y="864.21" width="31.0" height="8.5" fill="rgb(158,97,0)"/><rect x="980.00" y="874.24" width="31.0" height="8.5" fill="rgb(153,102,0)"/><rect x="980.00" y="884.27" width="31.0" height="8.5" fill="rgb(120,135,0)"/><rect x="980.00" y="894.30" width="31.0" height="8.5" fill="rgb(199,56,0)"/><rect x="980.00" y="904.33" width="31.0" height="8.5" fill="rgb(140,115,0)"/><rect x="980.00" y="914.36" width="31.0" height="8.5" fill="rgb(89,166,0)"/><rect x="1012.34" y="693.70" width="31.0" height="8.5" fill="rgb(76,178,0)"/><rect x="1012.34" y="703.73" width="31.0" height="8.5" fill="rgb(140,115,0)"/><rect x="1012.34" y="713.76" width="31.0" height="8.5" fill="rgb(76,178,0)"/><rect x="1012.34" y="723.79" width="31.0" height="8.5" fill="rgb(140,115,0)"/><rect x="1012.34" y="733.82" width="31.0" height="8.5" fill="rgb(115,140,0)"/><rect x="1012.34" y="743.85" width="31.0" height="8.5" fill="rgb(166,89,0)"/><rect x="1012.34" y="753.88" width="31.0" height="8.5" fill="rgb(135,120,0)"/><rect x="1012.34" y="763.91" width="31.0" height="8.5" fill="rgb(224,31,0)"/><rect x="1012.34" y="773.94" width="31.0" height="8.5" fill="rgb(196,59,0)"/><rect x="1012.34" y="783.97" width="31.0" height="8.5" fill="rgb(212,43,0)"/><rect x="1012.34" y="794.00" width="31.0" height="8.5" fill="rgb(224,31,0)"/><rect x="1012.34" y="804.03" width="31.0" height="8.5" fill="rgb(186,69,0)"/><rect x="1012.34" y="814.06" width="31.0" height="8.5" fill="rgb(153,102,0)"/><rect x="1012.34" y="824.09" width="31.0" height="8.5" fill="rgb(196,59,0)"/><rect x="1012.34" y="834.12" width="31.0" height="8.5" fill="rgb(217,38,0)"/><rect x="1012.34" y="844.15" width="31.0" height="8.5" fill="rgb(140,115,0)"/><rect x="1012.34" y="854.18" width="31.0" height="8.5" fill="rgb(186,69,0)"/><rect x="1012.34" y="864.21" width="31.0" height="8.5" fill="rgb(247,8,0)"/><rect x="1012.34" y="874.24" width="31.0" height="8.5" fill="rgb(128,128,0)"/><rect x="1012.34" y="884.27" width="31.0" height="8.5" fill="rgb(178,77,0)"/><rect x="1012.34" y="894.30" width="31.0" height="8.5" fill="rgb(222,33,0)"/><rect x="1012.34" y="904.33" width="31.0" height="8.5" fill="rgb(76,178,0)"/><rect x="1012.34" y="914.36" width="31.0" height="8.5" fill="rgb(51,204,0)"/><rect x="1044.68" y="693.70" width="31.0" height="8.5" fill="rgb(69,186,0)"/><rect x="1044.68" y="703.73" width="31.0" height="8.5" fill="rgb(102,153,0)"/><rect x="1044.68" y="713.76" width="31.0" height="8.5" fill="rgb(51,204,0)"/><rect x="1044.68" y="723.79" width="31.0" height="8.5" fill="rgb(69,186,0)"/><rect x="1044.68" y="733.82" width="31.0" height="8.5" fill="rgb(59,196,0)"/><rect x="1044.68" y="743.85" width="31.0" height="8.5" fill="rgb(128,128,0)"/><rect x="1044.68" y="753.88" width="31.0" height="8.5" fill="rgb(69,186,0)"/><rect x="1044.68" y="763.91" width="31.0" height="8.5" fill="rgb(76,178,0)"/><rect x="1044.68" y="773.94" width="31.0" height="8.5" fill="rgb(43,212,0)"/><rect x="1044.68" y="783.97" width="31.0" height="8.5" fill="rgb(102,153,0)"/><rect x="1044.68" y="794.00" width="31.0" height="8.5" fill="rgb(51,204,0)"/><rect x="1044.68" y="804.03" width="31.0" height="8.5" fill="rgb(133,122,0)"/><rect x="1044.68" y="814.06" width="31.0" height="8.5" fill="rgb(59,196,0)"/><rect x="1044.68" y="824.09" width="31.0" height="8.5" fill="rgb(107,148,0)"/><rect x="1044.68" y="834.12" width="31.0" height="8.5" fill="rgb(31,224,0)"/><rect x="1044.68" y="844.15" width="31.0" height="8.5" fill="rgb(94,161,0)"/><rect x="1044.68" y="854.18" width="31.0" height="8.5" fill="rgb(0,255,0)"/><rect x="1044.68" y="864.21" width="31.0" height="8.5" fill="rgb(13,242,0)"/><rect x="1044.68" y="874.24" width="31.0" height="8.5" fill="rgb(38,217,0)"/><rect x="1044.68" y="884.27" width="31.0" height="8.5" fill="rgb(18,237,0)"/><rect x="1044.68" y="894.30" width="31.0" height="8.5" fill="rgb(51,204,0)"/><rect x="1044.68" y="904.33" width="31.0" height="8.5" fill="rgb(0,255,0)"/><rect x="1044.68" y="914.36" width="31.0" height="8.5" fill="rgb(26,230,0)"/><rect x="1077.02" y="693.70" width="31.0" height="8.5" fill="rgb(0,255,0)"/><rect x="1077.02" y="703.73" width="31.0" height="8.5" fill="rgb(26,230,0)"/><rect x="1077.02" y="713.76" width="31.0" height="8.5" fill="rgb(0,255,0)"/><rect x="1077.02" y="723.79" width="31.0" height="8.5" fill="rgb(0,255,0)"/><rect x="1077.02" y="733.82" width="31.0" height="8.5" fill="rgb(0,255,0)"/><rect x="1077.02" y="743.85" width="31.0" height="8.5" fill="rgb(13,242,0)"/><rect x="1077.02" y="753.88" width="31.0" height="8.5" fill="rgb(26,230,0)"/><rect x="1077.02" y="763.91" width="31.0" height="8.5" fill="rgb(0,255,0)"/><rect x="1077.02" y="773.94" width="31.0" height="8.5" fill="rgb(0,255,0)"/><rect x="1077.02" y="783.97" width="31.0" height="8.5" fill="rgb(0,255,0)"/><rect x="1077.02" y="794.00" width="31.0" height="8.5" fill="rgb(0,255,0)"/><rect x="1077.02" y="804.03" width="31.0" height="8.5" fill="rgb(0,255,0)"/><rect x="1077.02" y="814.06" width="31.0" height="8.5" fill="rgb(0,255,0)"/><rect x="1077.02" y="824.09" width="31.0" height="8.5" fill="rgb(0,255,0)"/><rect x="1077.02" y="834.12" width="31.0" height="8.5" fill="rgb(0,255,0)"/><rect x="1077.02" y="844.15" width="31.0" height="8.5" fill="rgb(0,255,0)"/><rect x="1077.02" y="854.18" width="31.0" height="8.5" fill="rgb(0,255,0)"/><rect x="1077.02" y="864.21" width="31.0" height="8.5" fill="rgb(0,255,0)"/><rect x="1077.02" y="874.24" width="31.0" height="8.5" fill="rgb(0,255,0)"/><rect x="1077.02" y="884.27" width="31.0" height="8.5" fill="rgb(0,255,0)"/><rect x="1077.02" y="894.30" width="31.0" height="8.5" fill="rgb(0,255,0)"/><rect x="1077.02" y="904.33" width="31.0" height="8.5" fill="rgb(13,242,0)"/><rect x="1077.02" y="914.36" width="31.0" height="8.5" fill="rgb(26,230,0)"/><rect x="1109.36" y="693.70" width="31.0" height="8.5" fill="rgb(18,237,0)"/><rect x="1109.36" y="703.73" width="31.0" height="8.5" fill="rgb(76,178,0)"/><rect x="1109.36" y="713.76" width="31.0" height="8.5" fill="rgb(69,186,0)"/><rect x="1109.36" y="723.79" width="31.0" height="8.5" fill="rgb(56,199,0)"/><rect x="1109.36" y="733.82" width="31.0" height="8.5" fill="rgb(102,153,0)"/><rect x="1109.36" y="743.85" width="31.0" height="8.5" fill="rgb(76,178,0)"/><rect x="1109.36" y="753.88" width="31.0" height="8.5" fill="rgb(191,64,0)"/><rect x="1109.36" y="763.91" width="31.0" height="8.5" fill="rgb(171,84,0)"/><rect x="1109.36" y="773.94" width="31.0" height="8.5" fill="rgb(191,64,0)"/><rect x="1109.36" y="783.97" width="31.0" height="8.5" fill="rgb(209,46,0)"/><rect x="1109.36" y="794.00" width="31.0" height="8.5" fill="rgb(173,82,0)"/><rect x="1109.36" y="804.03" width="31.0" height="8.5" fill="rgb(255,0,0)"/><rect x="1109.36" y="814.06" width="31.0" height="8.5" fill="rgb(217,38,0)"/><rect x="1109.36" y="824.09" width="31.0" height="8.5" fill="rgb(199,56,0)"/><rect x="1109.36" y="834.12" width="31.0" height="8.5" fill="rgb(255,0,0)"/><rect x="1109.36" y="844.15" width="31.0" height="8.5" fill="rgb(186,69,0)"/><rect x="1109.36" y="854.18" width="31.0" height="8.5" fill="rgb(242,13,0)"/><rect x="1109.36" y="864.21" width="31.0" height="8.5" fill="rgb(230,25,0)"/><rect x="1109.36" y="874.24" width="31.0" height="8.5" fill="rgb(209,46,0)"/><rect x="1109.36" y="884.27" width="31.0" height="8.5" fill="rgb(171,84,0)"/><rect x="1109.36" y="894.30" width="31.0" height="8.5" fill="rgb(171,84,0)"/><rect x="1109.36" y="904.33" width="31.0" height="8.5" fill="rgb(171,84,0)"/><rect x="1109.36" y="914.36" width="31.0" height="8.5" fill="rgb(128,128,0)"/><rect x="1141.70" y="693.70" width="31.0" height="8.5" fill="rgb(140,115,0)"/><rect x="1141.70" y="703.73" width="31.0" height="8.5" fill="rgb(26,230,0)"/><rect x="1141.70" y="713.76" width="31.0" height="8.5" fill="rgb(107,148,0)"/><rect x="1141.70" y="723.79" width="31.0" height="8.5" fill="rgb(107,148,0)"/><rect x="1141.70" y="733.82" width="31.0" height="8.5" fill="rgb(69,186,0)"/><rect x="1141.70" y="743.85" width="31.0" height="8.5" fill="rgb(133,122,0)"/><rect x="1141.70" y="753.88" width="31.0" height="8.5" fill="rgb(191,64,0)"/><rect x="1141.70" y="763.91" width="31.0" height="8.5" fill="rgb(217,38,0)"/><rect x="1141.70" y="773.94" width="31.0" height="8.5" fill="rgb(222,33,0)"/><rect x="1141.70" y="783.97" width="31.0" height="8.5" fill="rgb(230,25,0)"/><rect x="1141.70" y="794.00" width="31.0" height="8.5" fill="rgb(178,77,0)"/><rect x="1141.70" y="804.03" width="31.0" height="8.5" fill="rgb(178,77,0)"/><rect x="1141.70" y="814.06" width="31.0" height="8.5" fill="rgb(110,145,0)"/><rect x="1141.70" y="824.09" width="31.0" height="8.5" fill="rgb(217,38,0)"/><rect x="1141.70" y="834.12" width="31.0" height="8.5" fill="rgb(158,97,0)"/><rect x="1141.70" y="844.15" width="31.0" height="8.5" fill="rgb(148,107,0)"/><rect x="1141.70" y="854.18" width="31.0" height="8.5" fill="rgb(158,97,0)"/><rect x="1141.70" y="864.21" width="31.0" height="8.5" fill="rgb(191,64,0)"/><rect x="1141.70" y="874.24" width="31.0" height="8.5" fill="rgb(204,51,0)"/><rect x="1141.70" y="884.27" width="31.0" height="8.5" fill="rgb(153,102,0)"/><rect x="1141.70" y="894.30" width="31.0" height="8.5" fill="rgb(255,0,0)"/><rect x="1141.70" y="904.33" width="31.0" height="8.5" fill="rgb(158,97,0)"/><rect x="1141.70" y="914.36" width="31.0" height="8.5" fill="rgb(94,161,0)"/><rect x="1174.04" y="693.70" width="31.0" height="8.5" fill="rgb(102,153,0)"/><rect x="1174.04" y="703.73" width="31.0" height="8.5" fill="rgb(64,191,0)"/><rect x="1174.04" y="713.76" width="31.0" height="8.5" fill="rgb(76,178,0)"/><rect x="1174.04" y="723.79" width="31.0" height="8.5" fill="rgb(64,191,0)"/><rect x="1174.04" y="733.82" width="31.0" height="8.5" fill="rgb(69,186,0)"/><rect x="1174.04" y="743.85" width="31.0" height="8.5" fill="rgb(153,102,0)"/><rect x="1174.04" y="753.88" width="31.0" height="8.5" fill="rgb(94,161,0)"/><rect x="1174.04" y="763.91" width="31.0" height="8.5" fill="rgb(217,38,0)"/><rect x="1174.04" y="773.94" width="31.0" height="8.5" fill="rgb(122,133,0)"/><rect x="1174.04" y="783.97" width="31.0" height="8.5" fill="rgb(230,25,0)"/><rect x="1174.04" y="794.00" width="31.0" height="8.5" fill="rgb(122,133,0)"/><rect x="1174.04" y="804.03" width="31.0" height="8.5" fill="rgb(212,43,0)"/><rect x="1174.04" y="814.06" width="31.0" height="8.5" fill="rgb(161,94,0)"/><rect x="1174.04" y="824.09" width="31.0" height="8.5" fill="rgb(199,56,0)"/><rect x="1174.04" y="834.12" width="31.0" height="8.5" fill="rgb(204,51,0)"/><rect x="1174.04" y="844.15" width="31.0" height="8.5" fill="rgb(153,102,0)"/><rect x="1174.04" y="854.18" width="31.0" height="8.5" fill="rgb(166,89,0)"/><rect x="1174.04" y="864.21" width="31.0" height="8.5" fill="rgb(166,89,0)"/><rect x="1174.04" y="874.24" width="31.0" height="8.5" fill="rgb(148,107,0)"/><rect x="1174.04" y="884.27" width="31.0" height="8.5" fill="rgb(161,94,0)"/><rect x="1174.04" y="894.30" width="31.0" height="8.5" fill="rgb(128,128,0)"/><rect x="1174.04" y="904.33" width="31.0" height="8.5" fill="rgb(128,128,0)"/><rect x="1174.04" y="914.36" width="31.0" height="8.5" fill="rgb(89,166,0)"/><rect x="1206.38" y="693.70" width="31.0" height="8.5" fill="rgb(140,115,0)"/><rect x="1206.38" y="703.73" width="31.0" height="8.5" fill="rgb(26,230,0)"/><rect x="1206.38" y="713.76" width="31.0" height="8.5" fill="rgb(120,135,0)"/><rect x="1206.38" y="723.79" width="31.0" height="8.5" fill="rgb(64,191,0)"/><rect x="1206.38" y="733.82" width="31.0" height="8.5" fill="rgb(120,135,0)"/><rect x="1206.38" y="743.85" width="31.0" height="8.5" fill="rgb(76,178,0)"/><rect x="1206.38" y="753.88" width="31.0" height="8.5" fill="rgb(235,20,0)"/><rect x="1206.38" y="763.91" width="31.0" height="8.5" fill="rgb(140,115,0)"/><rect x="1206.38" y="773.94" width="31.0" height="8.5" fill="rgb(212,43,0)"/><rect x="1206.38" y="783.97" width="31.0" height="8.5" fill="rgb(171,84,0)"/><rect x="1206.38" y="794.00" width="31.0" height="8.5" fill="rgb(217,38,0)"/><rect x="1206.38" y="804.03" width="31.0" height="8.5" fill="rgb(173,82,0)"/><rect x="1206.38" y="814.06" width="31.0" height="8.5" fill="rgb(209,46,0)"/><rect x="1206.38" y="824.09" width="31.0" height="8.5" fill="rgb(184,71,0)"/><rect x="1206.38" y="834.12" width="31.0" height="8.5" fill="rgb(128,128,0)"/><rect x="1206.38" y="844.15" width="31.0" height="8.5" fill="rgb(158,97,0)"/><rect x="1206.38" y="854.18" width="31.0" height="8.5" fill="rgb(212,43,0)"/><rect x="1206.38" y="864.21" width="31.0" height="8.5" fill="rgb(76,178,0)"/><rect x="1206.38" y="874.24" width="31.0" height="8.5" fill="rgb(158,97,0)"/><rect x="1206.38" y="884.27" width="31.0" height="8.5" fill="rgb(133,122,0)"/><rect x="1206.38" y="894.30" width="31.0" height="8.5" fill="rgb(204,51,0)"/><rect x="1206.38" y="904.33" width="31.0" height="8.5" fill="rgb(133,122,0)"/><rect x="1206.38" y="914.36" width="31.0" height="8.5" fill="rgb(59,196,0)"/><rect x="1238.72" y="693.70" width="31.0" height="8.5" fill="rgb(71,184,0)"/><rect x="1238.72" y="703.73" width="31.0" height="8.5" fill="rgb(71,184,0)"/><rect x="1238.72" y="713.76" width="31.0" height="8.5" fill="rgb(59,196,0)"/><rect x="1238.72" y="723.79" width="31.0" height="8.5" fill="rgb(115,140,0)"/><rect x="1238.72" y="733.82" width="31.0" height="8.5" fill="rgb(31,224,0)"/><rect x="1238.72" y="743.85" width="31.0" height="8.5" fill="rgb(128,128,0)"/><rect x="1238.72" y="753.88" width="31.0" height="8.5" fill="rgb(76,178,0)"/><rect x="1238.72" y="763.91" width="31.0" height="8.5" fill="rgb(230,25,0)"/><rect x="1238.72" y="773.94" width="31.0" height="8.5" fill="rgb(186,69,0)"/><rect x="1238.72" y="783.97" width="31.0" height="8.5" fill="rgb(199,56,0)"/><rect x="1238.72" y="794.00" width="31.0" height="8.5" fill="rgb(217,38,0)"/><rect x="1238.72" y="804.03" width="31.0" height="8.5" fill="rgb(199,56,0)"/><rect x="1238.72" y="814.06" width="31.0" height="8.5" fill="rgb(140,115,0)"/><rect x="1238.72" y="824.09" width="31.0" height="8.5" fill="rgb(158,97,0)"/><rect x="1238.72" y="834.12" width="31.0" height="8.5" fill="rgb(204,51,0)"/><rect x="1238.72" y="844.15" width="31.0" height="8.5" fill="rgb(115,140,0)"/><rect x="1238.72" y="854.18" width="31.0" height="8.5" fill="rgb(171,84,0)"/><rect x="1238.72" y="864.21" width="31.0" height="8.5" fill="rgb(161,94,0)"/><rect x="1238.72" y="874.24" width="31.0" height="8.5" fill="rgb(115,140,0)"/><rect x="1238.72" y="884.27" width="31.0" height="8.5" fill="rgb(186,69,0)"/><rect x="1238.72" y="894.30" width="31.0" height="8.5" fill="rgb(135,120,0)"/><rect x="1238.72" y="904.33" width="31.0" height="8.5" fill="rgb(69,186,0)"/><rect x="1238.72" y="914.36" width="31.0" height="8.5" fill="rgb(84,171,0)"/><rect x="1271.06" y="693.70" width="31.0" height="8.5" fill="rgb(26,230,0)"/><rect x="1271.06" y="703.73" width="31.0" height="8.5" fill="rgb(71,184,0)"/><rect x="1271.06" y="713.76" width="31.0" height="8.5" fill="rgb(33,222,0)"/><rect x="1271.06" y="723.79" width="31.0" height="8.5" fill="rgb(71,184,0)"/><rect x="1271.06" y="733.82" width="31.0" height="8.5" fill="rgb(0,255,0)"/><rect x="1271.06" y="743.85" width="31.0" height="8.5" fill="rgb(18,237,0)"/><rect x="1271.06" y="753.88" width="31.0" height="8.5" fill="rgb(76,178,0)"/><rect x="1271.06" y="763.91" width="31.0" height="8.5" fill="rgb(33,222,0)"/><rect x="1271.06" y="773.94" width="31.0" height="8.5" fill="rgb(76,178,0)"/><rect x="1271.06" y="783.97" width="31.0" height="8.5" fill="rgb(59,196,0)"/><rect x="1271.06" y="794.00" width="31.0" height="8.5" fill="rgb(64,191,0)"/><rect x="1271.06" y="804.03" width="31.0" height="8.5" fill="rgb(0,255,0)"/><rect x="1271.06" y="814.06" width="31.0" height="8.5" fill="rgb(76,178,0)"/><rect x="1271.06" y="824.09" width="31.0" height="8.5" fill="rgb(26,230,0)"/><rect x="1271.06" y="834.12" width="31.0" height="8.5" fill="rgb(43,212,0)"/><rect x="1271.06" y="844.15" width="31.0" height="8.5" fill="rgb(26,230,0)"/><rect x="1271.06" y="854.18" width="31.0" height="8.5" fill="rgb(69,186,0)"/><rect x="1271.06" y="864.21" width="31.0" height="8.5" fill="rgb(13,242,0)"/><rect x="1271.06" y="874.24" width="31.0" height="8.5" fill="rgb(13,242,0)"/><rect x="1271.06" y="884.27" width="31.0" height="8.5" fill="rgb(18,237,0)"/><rect x="1271.06" y="894.30" width="31.0" height="8.5" fill="rgb(64,191,0)"/><rect x="1271.06" y="904.33" width="31.0" height="8.5" fill="rgb(18,237,0)"/><rect x="1271.06" y="914.36" width="31.0" height="8.5" fill="rgb(0,255,0)"/><rect x="1303.40" y="693.70" width="31.0" height="8.5" fill="rgb(26,230,0)"/><rect x="1303.40" y="703.73" width="31.0" height="8.5" fill="rgb(0,255,0)"/><rect x="1303.40" y="713.76" width="31.0" height="8.5" fill="rgb(0,255,0)"/><rect x="1303.40" y="723.79" width="31.0" height="8.5" fill="rgb(0,255,0)"/><rect x="1303.40" y="733.82" width="31.0" height="8.5" fill="rgb(0,255,0)"/><rect x="1303.40" y="743.85" width="31.0" height="8.5" fill="rgb(0,255,0)"/><rect x="1303.40" y="753.88" width="31.0" height="8.5" fill="rgb(0,255,0)"/><rect x="1303.40" y="763.91" width="31.0" height="8.5" fill="rgb(0,255,0)"/><rect x="1303.40" y="773.94" width="31.0" height="8.5" fill="rgb(0,255,0)"/><rect x="1303.40" y="783.97" width="31.0" height="8.5" fill="rgb(13,242,0)"/><rect x="1303.40" y="794.00" width="31.0" height="8.5" fill="rgb(0,255,0)"/><rect x="1303.40" y="804.03" width="31.0" height="8.5" fill="rgb(0,255,0)"/><rect x="1303.40" y="814.06" width="31.0" height="8.5" fill="rgb(0,255,0)"/><rect x="1303.40" y="824.09" width="31.0" height="8.5" fill="rgb(0,255,0)"/><rect x="1303.40" y="834.12" width="31.0" height="8.5" fill="rgb(13,242,0)"/><rect x="1303.40" y="844.15" width="31.0" height="8.5" fill="rgb(0,255,0)"/><rect x="1303.40" y="854.18" width="31.0" height="8.5" fill="rgb(0,255,0)"/><rect x="1303.40" y="864.21" width="31.0" height="8.5" fill="rgb(0,255,0)"/><rect x="1303.40" y="874.24" width="31.0" height="8.5" fill="rgb(0,255,0)"/><rect x="1303.40" y="884.27" width="31.0" height="8.5" fill="rgb(0,255,0)"/><rect x="1303.40" y="894.30" width="31.0" height="8.5" fill="rgb(0,255,0)"/><rect x="1303.40" y="904.33" width="31.0" height="8.5" fill="rgb(0,255,0)"/><rect x="1303.40" y="914.36" width="31.0" height="8.5" fill="rgb(0,255,0)"/><rect x="1335.74" y="693.70" width="31.0" height="8.5" fill="rgb(0,255,0)"/><rect x="1335.74" y="703.73" width="31.0" height="8.5" fill="rgb(0,255,0)"/><rect x="1335.74" y="713.76" width="31.0" height="8.5" fill="rgb(0,255,0)"/><rect x="1335.74" y="723.79" width="31.0" height="8.5" fill="rgb(0,255,0)"/><rect x="1335.74" y="733.82" width="31.0" height="8.5" fill="rgb(0,255,0)"/><rect x="1335.74" y="743.85" width="31.0" height="8.5" fill="rgb(13,242,0)"/><rect x="1335.74" y="753.88" width="31.0" height="8.5" fill="rgb(76,178,0)"/><rect x="1335.74" y="763.91" width="31.0" height="8.5" fill="rgb(140,115,0)"/><rect x="1335.74" y="773.94" width="31.0" height="8.5" fill="rgb(158,97,0)"/><rect x="1335.74" y="783.97" width="31.0" height="8.5" fill="rgb(217,38,0)"/><rect x="1335.74" y="794.00" width="31.0" height="8.5" fill="rgb(110,145,0)"/><rect x="1335.74" y="804.03" width="31.0" height="8.5" fill="rgb(191,64,0)"/><rect x="1335.74" y="814.06" width="31.0" height="8.5" fill="rgb(161,94,0)"/><rect x="1335.74" y="824.09" width="31.0" height="8.5" fill="rgb(173,82,0)"/><rect x="1335.74" y="834.12" width="31.0" height="8.5" fill="rgb(186,69,0)"/><rect x="1335.74" y="844.15" width="31.0" height="8.5" fill="rgb(110,145,0)"/><rect x="1335.74" y="854.18" width="31.0" height="8.5" fill="rgb(102,153,0)"/><rect x="1335.74" y="864.21" width="31.0" height="8.5" fill="rgb(115,140,0)"/><rect x="1335.74" y="874.24" width="31.0" height="8.5" fill="rgb(107,148,0)"/><rect x="1335.74" y="884.27" width="31.0" height="8.5" fill="rgb(51,204,0)"/><rect x="1335.74" y="894.30" width="31.0" height="8.5" fill="rgb(64,191,0)"/><rect x="1335.74" y="904.33" width="31.0" height="8.5" fill="rgb(26,230,0)"/><rect x="1335.74" y="914.36" width="31.0" height="8.5" fill="rgb(51,204,0)"/><rect x="1368.08" y="693.70" width="31.0" height="8.5" fill="rgb(0,255,0)"/><rect x="1368.08" y="703.73" width="31.0" height="8.5" fill="rgb(0,255,0)"/><rect x="1368.08" y="713.76" width="31.0" height="8.5" fill="rgb(0,255,0)"/><rect x="1368.08" y="723.79" width="31.0" height="8.5" fill="rgb(0,255,0)"/><rect x="1368.08" y="733.82" width="31.0" height="8.5" fill="rgb(0,255,0)"/><rect x="1368.08" y="743.85" width="31.0" height="8.5" fill="rgb(0,255,0)"/><rect x="1368.08" y="753.88" width="31.0" height="8.5" fill="rgb(18,237,0)"/><rect x="1368.08" y="763.91" width="31.0" height="8.5" fill="rgb(71,184,0)"/><rect x="1368.08" y="773.94" width="31.0" height="8.5" fill="rgb(64,191,0)"/><rect x="1368.08" y="783.97" width="31.0" height="8.5" fill="rgb(89,166,0)"/><rect x="1368.08" y="794.00" width="31.0" height="8.5" fill="rgb(43,212,0)"/><rect x="1368.08" y="804.03" width="31.0" height="8.5" fill="rgb(120,135,0)"/><rect x="1368.08" y="814.06" width="31.0" height="8.5" fill="rgb(122,133,0)"/><rect x="1368.08" y="824.09" width="31.0" height="8.5" fill="rgb(69,186,0)"/><rect x="1368.08" y="834.12" width="31.0" height="8.5" fill="rgb(133,122,0)"/><rect x="1368.08" y="844.15" width="31.0" height="8.5" fill="rgb(115,140,0)"/><rect x="1368.08" y="854.18" width="31.0" height="8.5" fill="rgb(56,199,0)"/><rect x="1368.08" y="864.21" width="31.0" height="8.5" fill="rgb(71,184,0)"/><rect x="1368.08" y="874.24" width="31.0" height="8.5" fill="rgb(51,204,0)"/><rect x="1368.08" y="884.27" width="31.0" height="8.5" fill="rgb(0,255,0)"/><rect x="1368.08" y="894.30" width="31.0" height="8.5" fill="rgb(0,255,0)"/><rect x="1368.08" y="904.33" width="31.0" height="8.5" fill="rgb(0,255,0)"/><rect x="1368.08" y="914.36" width="31.0" height="8.5" fill="rgb(0,255,0)"/><rect x="1400.42" y="693.70" width="31.0" height="8.5" fill="rgb(0,255,0)"/><rect x="1400.42" y="703.73" width="31.0" height="8.5" fill="rgb(0,255,0)"/><rect x="1400.42" y="713.76" width="31.0" height="8.5" fill="rgb(0,255,0)"/><rect x="1400.42" y="723.79" width="31.0" height="8.5" fill="rgb(0,255,0)"/><rect x="1400.42" y="733.82" width="31.0" height="8.5" fill="rgb(0,255,0)"/><rect x="1400.42" y="743.85" width="31.0" height="8.5" fill="rgb(20,235,0)"/><rect x="1400.42" y="753.88" width="31.0" height="8.5" fill="rgb(0,255,0)"/><rect x="1400.42" y="763.91" width="31.0" height="8.5" fill="rgb(26,230,0)"/><rect x="1400.42" y="773.94" width="31.0" height="8.5" fill="rgb(31,224,0)"/><rect x="1400.42" y="783.97" width="31.0" height="8.5" fill="rgb(38,217,0)"/><rect x="1400.42" y="794.00" width="31.0" height="8.5" fill="rgb(76,178,0)"/><rect x="1400.42" y="804.03" width="31.0" height="8.5" fill="rgb(128,128,0)"/><rect x="1400.42" y="814.06" width="31.0" height="8.5" fill="rgb(84,171,0)"/><rect x="1400.42" y="824.09" width="31.0" height="8.5" fill="rgb(153,102,0)"/><rect x="1400.42" y="834.12" width="31.0" height="8.5" fill="rgb(140,115,0)"/><rect x="1400.42" y="844.15" width="31.0" height="8.5" fill="rgb(84,171,0)"/><rect x="1400.42" y="854.18" width="31.0" height="8.5" fill="rgb(76,178,0)"/><rect x="1400.42" y="864.21" width="31.0" height="8.5" fill="rgb(76,178,0)"/><rect x="1400.42" y="874.24" width="31.0" height="8.5" fill="rgb(31,224,0)"/><rect x="1400.42" y="884.27" width="31.0" height="8.5" fill="rgb(43,212,0)"/><rect x="1400.42" y="894.30" width="31.0" height="8.5" fill="rgb(18,237,0)"/><rect x="1400.42" y="904.33" width="31.0" height="8.5" fill="rgb(64,191,0)"/><rect x="1400.42" y="914.36" width="31.0" height="8.5" fill="rgb(13,242,0)"/><rect x="1432.76" y="693.70" width="31.0" height="8.5" fill="rgb(31,224,0)"/><rect x="1432.76" y="703.73" width="31.0" height="8.5" fill="rgb(0,255,0)"/><rect x="1432.76" y="713.76" width="31.0" height="8.5" fill="rgb(13,242,0)"/><rect x="1432.76" y="723.79" width="31.0" height="8.5" fill="rgb(0,255,0)"/><rect x="1432.76" y="733.82" width="31.0" height="8.5" fill="rgb(56,199,0)"/><rect x="1432.76" y="743.85" width="31.0" height="8.5" fill="rgb(0,255,0)"/><rect x="1432.76" y="753.88" width="31.0" height="8.5" fill="rgb(26,230,0)"/><rect x="1432.76" y="763.91" width="31.0" height="8.5" fill="rgb(18,237,0)"/><rect x="1432.76" y="773.94" width="31.0" height="8.5" fill="rgb(0,255,0)"/><rect x="1432.76" y="783.97" width="31.0" height="8.5" fill="rgb(26,230,0)"/><rect x="1432.76" y="794.00" width="31.0" height="8.5" fill="rgb(46,209,0)"/><rect x="1432.76" y="804.03" width="31.0" height="8.5" fill="rgb(102,153,0)"/><rect x="1432.76" y="814.06" width="31.0" height="8.5" fill="rgb(89,166,0)"/><rect x="1432.76" y="824.09" width="31.0" height="8.5" fill="rgb(140,115,0)"/><rect x="1432.76" y="834.12" width="31.0" height="8.5" fill="rgb(128,128,0)"/><rect x="1432.76" y="844.15" width="31.0" height="8.5" fill="rgb(38,217,0)"/><rect x="1432.76" y="854.18" width="31.0" height="8.5" fill="rgb(26,230,0)"/><rect x="1432.76" y="864.21" width="31.0" height="8.5" fill="rgb(0,255,0)"/><rect x="1432.76" y="874.24" width="31.0" height="8.5" fill="rgb(0,255,0)"/><rect x="1432.76" y="884.27" width="31.0" height="8.5" fill="rgb(0,255,0)"/><rect x="1432.76" y="894.30" width="31.0" height="8.5" fill="rgb(0,255,0)"/><rect x="1432.76" y="904.33" width="31.0" height="8.5" fill="rgb(0,255,0)"/><rect x="1432.76" y="914.36" width="31.0" height="8.5" fill="rgb(0,255,0)"/><rect x="1465.10" y="693.70" width="31.0" height="8.5" fill="rgb(0,255,0)"/><rect x="1465.10" y="703.73" width="31.0" height="8.5" fill="rgb(0,255,0)"/><rect x="1465.10" y="713.76" width="31.0" height="8.5" fill="rgb(0,255,0)"/><rect x="1465.10" y="723.79" width="31.0" height="8.5" fill="rgb(0,255,0)"/><rect x="1465.10" y="733.82" width="31.0" height="8.5" fill="rgb(0,255,0)"/><rect x="1465.10" y="743.85" width="31.0" height="8.5" fill="rgb(0,255,0)"/><rect x="1465.10" y="753.88" width="31.0" height="8.5" fill="rgb(18,237,0)"/><rect x="1465.10" y="763.91" width="31.0" height="8.5" fill="rgb(0,255,0)"/><rect x="1465.10" y="773.94" width="31.0" height="8.5" fill="rgb(0,255,0)"/><rect x="1465.10" y="783.97" width="31.0" height="8.5" fill="rgb(26,230,0)"/><rect x="1465.10" y="794.00" width="31.0" height="8.5" fill="rgb(89,166,0)"/><rect x="1465.10" y="804.03" width="31.0" height="8.5" fill="rgb(51,204,0)"/><rect x="1465.10" y="814.06" width="31.0" height="8.5" fill="rgb(120,135,0)"/><rect x="1465.10" y="824.09" width="31.0" height="8.5" fill="rgb(115,140,0)"/><rect x="1465.10" y="834.12" width="31.0" height="8.5" fill="rgb(46,209,0)"/><rect x="1465.10" y="844.15" width="31.0" height="8.5" fill="rgb(0,255,0)"/><rect x="1465.10" y="854.18" width="31.0" height="8.5" fill="rgb(0,255,0)"/><rect x="1465.10" y="864.21" width="31.0" height="8.5" fill="rgb(0,255,0)"/><rect x="1465.10" y="874.24" width="31.0" height="8.5" fill="rgb(0,255,0)"/><rect x="1465.10" y="884.27" width="31.0" height="8.5" fill="rgb(0,255,0)"/><rect x="1465.10" y="894.30" width="31.0" height="8.5" fill="rgb(0,255,0)"/><rect x="1465.10" y="904.33" width="31.0" height="8.5" fill="rgb(26,230,0)"/><rect x="1465.10" y="914.36" width="31.0" height="8.5" fill="rgb(13,242,0)"/><rect x="1497.44" y="693.70" width="31.0" height="8.5" fill="rgb(0,255,0)"/><rect x="1497.44" y="703.73" width="31.0" height="8.5" fill="rgb(0,255,0)"/><rect x="1497.44" y="713.76" width="31.0" height="8.5" fill="rgb(0,255,0)"/><rect x="1497.44" y="723.79" width="31.0" height="8.5" fill="rgb(0,255,0)"/><rect x="1497.44" y="733.82" width="31.0" height="8.5" fill="rgb(0,255,0)"/><rect x="1497.44" y="743.85" width="31.0" height="8.5" fill="rgb(26,230,0)"/><rect x="1497.44" y="753.88" width="31.0" height="8.5" fill="rgb(0,255,0)"/><rect x="1497.44" y="763.91" width="31.0" height="8.5" fill="rgb(0,255,0)"/><rect x="1497.44" y="773.94" width="31.0" height="8.5" fill="rgb(0,255,0)"/><rect x="1497.44" y="783.97" width="31.0" height="8.5" fill="rgb(0,255,0)"/><rect x="1497.44" y="794.00" width="31.0" height="8.5" fill="rgb(0,255,0)"/><rect x="1497.44" y="804.03" width="31.0" height="8.5" fill="rgb(0,255,0)"/><rect x="1497.44" y="814.06" width="31.0" height="8.5" fill="rgb(18,237,0)"/><rect x="1497.44" y="824.09" width="31.0" height="8.5" fill="rgb(0,255,0)"/><rect x="1497.44" y="834.12" width="31.0" height="8.5" fill="rgb(0,255,0)"/><rect x="1497.44" y="844.15" width="31.0" height="8.5" fill="rgb(0,255,0)"/><rect x="1497.44" y="854.18" width="31.0" height="8.5" fill="rgb(0,255,0)"/><rect x="1497.44" y="864.21" width="31.0" height="8.5" fill="rgb(0,255,0)"/><rect x="1497.44" y="874.24" width="31.0" height="8.5" fill="rgb(0,255,0)"/><rect x="1497.44" y="884.27" width="31.0" height="8.5" fill="rgb(0,255,0)"/><rect x="1497.44" y="894.30" width="31.0" height="8.5" fill="rgb(0,255,0)"/><rect x="1497.44" y="904.33" width="31.0" height="8.5" fill="rgb(0,255,0)"/><rect x="1497.44" y="914.36" width="31.0" height="8.5" fill="rgb(0,255,0)"/><rect x="1529.78" y="693.70" width="31.0" height="8.5" fill="rgb(0,255,0)"/><rect x="1529.78" y="703.73" width="31.0" height="8.5" fill="rgb(0,255,0)"/><rect x="1529.78" y="713.76" width="31.0" height="8.5" fill="rgb(0,255,0)"/><rect x="1529.78" y="723.79" width="31.0" height="8.5" fill="rgb(0,255,0)"/><rect x="1529.78" y="733.82" width="31.0" height="8.5" fill="rgb(0,255,0)"/><rect x="1529.78" y="743.85" width="31.0" height="8.5" fill="rgb(0,255,0)"/><rect x="1529.78" y="753.88" width="31.0" height="8.5" fill="rgb(0,255,0)"/><rect x="1529.78" y="763.91" width="31.0" height="8.5" fill="rgb(0,255,0)"/><rect x="1529.78" y="773.94" width="31.0" height="8.5" fill="rgb(0,255,0)"/><rect x="1529.78" y="783.97" width="31.0" height="8.5" fill="rgb(0,255,0)"/><rect x="1529.78" y="794.00" width="31.0" height="8.5" fill="rgb(0,255,0)"/><rect x="1529.78" y="804.03" width="31.0" height="8.5" fill="rgb(0,255,0)"/><rect x="1529.78" y="814.06" width="31.0" height="8.5" fill="rgb(0,255,0)"/><rect x="1529.78" y="824.09" width="31.0" height="8.5" fill="rgb(0,255,0)"/><rect x="1529.78" y="834.12" width="31.0" height="8.5" fill="rgb(0,255,0)"/><rect x="1529.78" y="844.15" width="31.0" height="8.5" fill="rgb(0,255,0)"/><rect x="1529.78" y="854.18" width="31.0" height="8.5" fill="rgb(0,255,0)"/><rect x="1529.78" y="864.21" width="31.0" height="8.5" fill="rgb(0,255,0)"/><rect x="1529.78" y="874.24" width="31.0" height="8.5" fill="rgb(0,255,0)"/><rect x="1529.78" y="884.27" width="31.0" height="8.5" fill="rgb(0,255,0)"/><rect x="1529.78" y="894.30" width="31.0" height="8.5" fill="rgb(0,255,0)"/><rect x="1529.78" y="904.33" width="31.0" height="8.5" fill="rgb(0,255,0)"/><rect x="1529.78" y="914.36" width="31.0" height="8.5" fill="rgb(0,255,0)"/><rect x="1562.12" y="693.70" width="31.0" height="8.5" fill="rgb(0,255,0)"/><rect x="1562.12" y="703.73" width="31.0" height="8.5" fill="rgb(0,255,0)"/><rect x="1562.12" y="713.76" width="31.0" height="8.5" fill="rgb(0,255,0)"/><rect x="1562.12" y="723.79" width="31.0" height="8.5" fill="rgb(0,255,0)"/><rect x="1562.12" y="733.82" width="31.0" height="8.5" fill="rgb(26,230,0)"/><rect x="1562.12" y="743.85" width="31.0" height="8.5" fill="rgb(0,255,0)"/><rect x="1562.12" y="753.88" width="31.0" height="8.5" fill="rgb(13,242,0)"/><rect x="1562.12" y="763.91" width="31.0" height="8.5" fill="rgb(0,255,0)"/><rect x="1562.12" y="773.94" width="31.0" height="8.5" fill="rgb(18,237,0)"/><rect x="1562.12" y="783.97" width="31.0" height="8.5" fill="rgb(0,255,0)"/><rect x="1562.12" y="794.00" width="31.0" height="8.5" fill="rgb(0,255,0)"/><rect x="1562.12" y="804.03" width="31.0" height="8.5" fill="rgb(0,255,0)"/><rect x="1562.12" y="814.06" width="31.0" height="8.5" fill="rgb(0,255,0)"/><rect x="1562.12" y="824.09" width="31.0" height="8.5" fill="rgb(13,242,0)"/><rect x="1562.12" y="834.12" width="31.0" height="8.5" fill="rgb(43,212,0)"/><rect x="1562.12" y="844.15" width="31.0" height="8.5" fill="rgb(0,255,0)"/><rect x="1562.12" y="854.18" width="31.0" height="8.5" fill="rgb(13,242,0)"/><rect x="1562.12" y="864.21" width="31.0" height="8.5" fill="rgb(8,247,0)"/><rect x="1562.12" y="874.24" width="31.0" height="8.5" fill="rgb(0,255,0)"/><rect x="1562.12" y="884.27" width="31.0" height="8.5" fill="rgb(0,255,0)"/><rect x="1562.12" y="894.30" width="31.0" height="8.5" fill="rgb(0,255,0)"/><rect x="1562.12" y="904.33" width="31.0" height="8.5" fill="rgb(0,255,0)"/><rect x="1562.12" y="914.36" width="31.0" height="8.5" fill="rgb(0,255,0)"/><rect x="1594.46" y="693.70" width="31.0" height="8.5" fill="rgb(31,224,0)"/><rect x="1594.46" y="703.73" width="31.0" height="8.5" fill="rgb(0,255,0)"/><rect x="1594.46" y="713.76" width="31.0" height="8.5" fill="rgb(0,255,0)"/><rect x="1594.46" y="723.79" width="31.0" height="8.5" fill="rgb(0,255,0)"/><rect x="1594.46" y="733.82" width="31.0" height="8.5" fill="rgb(0,255,0)"/><rect x="1594.46" y="743.85" width="31.0" height="8.5" fill="rgb(0,255,0)"/><rect x="1594.46" y="753.88" width="31.0" height="8.5" fill="rgb(13,242,0)"/><rect x="1594.46" y="763.91" width="31.0" height="8.5" fill="rgb(20,235,0)"/><rect x="1594.46" y="773.94" width="31.0" height="8.5" fill="rgb(18,237,0)"/><rect x="1594.46" y="783.97" width="31.0" height="8.5" fill="rgb(51,204,0)"/><rect x="1594.46" y="794.00" width="31.0" height="8.5" fill="rgb(43,212,0)"/><rect x="1594.46" y="804.03" width="31.0" height="8.5" fill="rgb(82,173,0)"/><rect x="1594.46" y="814.06" width="31.0" height="8.5" fill="rgb(84,171,0)"/><rect x="1594.46" y="824.09" width="31.0" height="8.5" fill="rgb(76,178,0)"/><rect x="1594.46" y="834.12" width="31.0" height="8.5" fill="rgb(120,135,0)"/><rect x="1594.46" y="844.15" width="31.0" height="8.5" fill="rgb(51,204,0)"/><rect x="1594.46" y="854.18" width="31.0" height="8.5" fill="rgb(115,140,0)"/><rect x="1594.46" y="864.21" width="31.0" height="8.5" fill="rgb(51,204,0)"/><rect x="1594.46" y="874.24" width="31.0" height="8.5" fill="rgb(38,217,0)"/><rect x="1594.46" y="884.27" width="31.0" height="8.5" fill="rgb(76,178,0)"/><rect x="1594.46" y="894.30" width="31.0" height="8.5" fill="rgb(31,224,0)"/><rect x="1594.46" y="904.33" width="31.0" height="8.5" fill="rgb(0,255,0)"/><rect x="1594.46" y="914.36" width="31.0" height="8.5" fill="rgb(56,199,0)"/><rect x="1626.80" y="693.70" width="31.0" height="8.5" fill="rgb(0,255,0)"/><rect x="1626.80" y="703.73" width="31.0" height="8.5" fill="rgb(18,237,0)"/><rect x="1626.80" y="713.76" width="31.0" height="8.5" fill="rgb(0,255,0)"/><rect x="1626.80" y="723.79" width="31.0" height="8.5" fill="rgb(31,224,0)"/><rect x="1626.80" y="733.82" width="31.0" height="8.5" fill="rgb(0,255,0)"/><rect x="1626.80" y="743.85" width="31.0" height="8.5" fill="rgb(43,212,0)"/><rect x="1626.80" y="753.88" width="31.0" height="8.5" fill="rgb(18,237,0)"/><rect x="1626.80" y="763.91" width="31.0" height="8.5" fill="rgb(76,178,0)"/><rect x="1626.80" y="773.94" width="31.0" height="8.5" fill="rgb(84,171,0)"/><rect x="1626.80" y="783.97" width="31.0" height="8.5" fill="rgb(89,166,0)"/><rect x="1626.80" y="794.00" width="31.0" height="8.5" fill="rgb(140,115,0)"/><rect x="1626.80" y="804.03" width="31.0" height="8.5" fill="rgb(51,204,0)"/><rect x="1626.80" y="814.06" width="31.0" height="8.5" fill="rgb(120,135,0)"/><rect x="1626.80" y="824.09" width="31.0" height="8.5" fill="rgb(76,178,0)"/><rect x="1626.80" y="834.12" width="31.0" height="8.5" fill="rgb(120,135,0)"/><rect x="1626.80" y="844.15" width="31.0" height="8.5" fill="rgb(84,171,0)"/><rect x="1626.80" y="854.18" width="31.0" height="8.5" fill="rgb(33,222,0)"/><rect x="1626.80" y="864.21" width="31.0" height="8.5" fill="rgb(51,204,0)"/><rect x="1626.80" y="874.24" width="31.0" height="8.5" fill="rgb(0,255,0)"/><rect x="1626.80" y="884.27" width="31.0" height="8.5" fill="rgb(94,161,0)"/><rect x="1626.80" y="894.30" width="31.0" height="8.5" fill="rgb(133,122,0)"/><rect x="1626.80" y="904.33" width="31.0" height="8.5" fill="rgb(33,222,0)"/><rect x="1626.80" y="914.36" width="31.0" height="8.5" fill="rgb(13,242,0)"/><rect x="1659.14" y="693.70" width="31.0" height="8.5" fill="rgb(76,178,0)"/><rect x="1659.14" y="703.73" width="31.0" height="8.5" fill="rgb(128,128,0)"/><rect x="1659.14" y="713.76" width="31.0" height="8.5" fill="rgb(51,204,0)"/><rect x="1659.14" y="723.79" width="31.0" height="8.5" fill="rgb(115,140,0)"/><rect x="1659.14" y="733.82" width="31.0" height="8.5" fill="rgb(102,153,0)"/><rect x="1659.14" y="743.85" width="31.0" height="8.5" fill="rgb(51,204,0)"/><rect x="1659.14" y="753.88" width="31.0" height="8.5" fill="rgb(140,115,0)"/><rect x="1659.14" y="763.91" width="31.0" height="8.5" fill="rgb(84,171,0)"/><rect x="1659.14" y="773.94" width="31.0" height="8.5" fill="rgb(128,128,0)"/><rect x="1659.14" y="783.97" width="31.0" height="8.5" fill="rgb(76,178,0)"/><rect x="1659.14" y="794.00" width="31.0" height="8.5" fill="rgb(122,133,0)"/><rect x="1659.14" y="804.03" width="31.0" height="8.5" fill="rgb(64,191,0)"/><rect x="1659.14" y="814.06" width="31.0" height="8.5" fill="rgb(196,59,0)"/><rect x="1659.14" y="824.09" width="31.0" height="8.5" fill="rgb(135,120,0)"/><rect x="1659.14" y="834.12" width="31.0" height="8.5" fill="rgb(64,191,0)"/><text x="974" y="697.5" font-size="11" fill="#333" text-anchor="end">00</text><text x="974" y="717.6" font-size="11" fill="#333" text-anchor="end">02</text><text x="974" y="737.6" font-size="11" fill="#333" text-anchor="end">04</text><text x="974" y="757.7" font-size="11" fill="#333" text-anchor="end">06</text><text x="974" y="777.7" font-size="11" fill="#333" text-anchor="end">08</text><text x="974" y="797.8" font-size="11" fill="#333" text-anchor="end">10</text><text x="974" y="817.9" font-size="11" fill="#333" text-anchor="end">12</text><text x="974" y="837.9" font-size="11" fill="#333" text-anchor="end">14</text><text x="974" y="858.0" font-size="11" fill="#333" text-anchor="end">16</text><text x="974" y="878.0" font-size="11" fill="#333" text-anchor="end">19</text><text x="974" y="898.1" font-size="11" fill="#333" text-anchor="end">21</text><text x="974" y="918.2" font-size="11" fill="#333" text-anchor="end">23</text><defs><linearGradient id="hg" x1="0" x2="1" y1="0" y2="0"><stop offset="0" stop-color="#00ff00"/><stop offset="0.5" stop-color="#808000"/><stop offset="1" stop-color="#ff0000"/></linearGradient><clipPath id="hc"><rect x="979.7" y="944.2" width="711.1" height="13.6"/></clipPath></defs><rect x="979.7" y="944.2" width="711.1" height="13.6" fill="url(#hg)"/><circle cx="1685" cy="951" r="9" fill="#ff9090" fill-opacity=".9" clip-path="url(#hc)"/><text x="985" y="937.7" font-size="10.4" letter-spacing="0.6" fill="#555">Minimalwert</text><text x="1622" y="937.5" font-size="10.4" letter-spacing="0.6" fill="#444" textLength="63.5" lengthAdjust="spacing">Maximalwert</text><circle cx="1685.5" cy="952.4" r="2" fill="#8a0000"/><circle cx="1692.1" cy="952.4" r="2" fill="#888"/><circle cx="1697.8" cy="952.4" r="2" fill="#888"/><path d="M999,909.3 h57.6 a3,3 0 0 1 3,3 v24.5 a3,3 0 0 1 -3,3 h-25.2 l-4,3.6 l-4,-3.6 h-24.4 a3,3 0 0 1 -3,-3 v-24.5 a3,3 0 0 1 3,-3 z" fill="#1ee81e" fill-opacity=".93" stroke="#5cf05c" stroke-width="0.8"/><text x="1027.5" y="930.4" font-size="13.2" fill="#111" text-anchor="middle">2,2 kW</text></svg><div class="abs" style="left:979.0px;top:670.0px;width:711.8px;height:11px;background:#d9d9d9"></div><div class="abs" style="left:963.35px;top:661.40px;width:31.3px;height:28.2px;border-radius:50%;background:#d9d9d9;border:1px solid #fff"><div class="abs" style="left:11.50px;top:7.60px;width:1.8px;height:11px;background:#777"></div><div class="abs" style="left:16.00px;top:7.60px;width:1.8px;height:11px;background:#6a6a6a"></div></div><div class="abs" style="left:1675.15px;top:661.40px;width:31.3px;height:28.2px;border-radius:50%;background:#d9d9d9;border:1px solid #fff"><div class="abs" style="left:11.50px;top:7.60px;width:1.8px;height:11px;background:#777"></div><div class="abs" style="left:16.00px;top:7.60px;width:1.8px;height:11px;background:#6a6a6a"></div></div>
<div id="navsh"></div><div id="nav">
  <div class="tab" style="left:19px">Erstes Dashboard</div>
  <div class="tab" style="left:164px">Zweites Dashboard</div>
  <div class="tab" style="left:317px">Energy Monitoring</div>
  <div class="abs" style="left:295px;top:38px;width:146px;height:3px;background:#eef0f3"></div>
  <svg class="abs" style="left:474.2px;top:12.9px" width="14" height="14" viewBox="0 0 14 14"><path d="M7 0.3v13.4M0.3 7h13.4" stroke="#d0d4e4" stroke-width="2.1"/></svg>
  <svg class="abs" style="left:1664px;top:7px" width="24" height="24" viewBox="0 0 24 24"><circle cx="12" cy="12" r="8.9" fill="none" stroke="#fff" stroke-width="2.2"/><path d="M11.9 6.8v5.6l3.6 2.4" fill="none" stroke="#fff" stroke-width="2.2"/></svg>
  <svg class="abs" style="left:1701.5px;top:7px" width="24" height="24" viewBox="0 0 24 24"><path fill="#fff" d="M22.7 19l-9.1-9.1c.9-2.3.4-5-1.5-6.9-2-2-5-2.4-7.4-1.3L9 6 6 9 1.6 4.7C.4 7.1.9 10.1 2.9 12.1c1.9 1.9 4.6 2.4 6.9 1.5l9.1 9.1c.4.4 1 .4 1.4 0l2.3-2.3c.5-.4.5-1.1.1-1.4z"/></svg>
</div>
</div></body></html>
